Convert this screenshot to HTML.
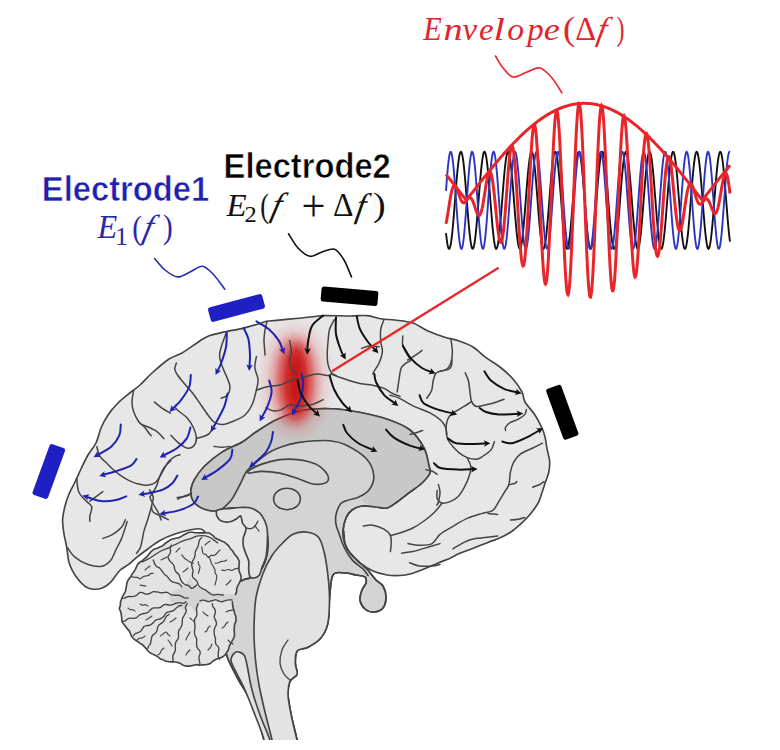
<!DOCTYPE html>
<html><head><meta charset="utf-8"><style>
html,body{margin:0;padding:0;background:#fff;}
body{width:780px;height:750px;overflow:hidden;position:relative;}
svg{position:absolute;left:0;top:0;}
.t{font-family:"Liberation Sans",sans-serif;font-weight:bold;}
.m{font-family:"Liberation Serif",serif;}
</style></head><body>
<svg width="780" height="750" viewBox="0 0 780 750">
<defs>
<radialGradient id="glow" cx="0.5" cy="0.5" r="0.5">
<stop offset="0" stop-color="#d41818" stop-opacity="1"/>
<stop offset="0.4" stop-color="#d61c1c" stop-opacity="0.9"/>
<stop offset="0.75" stop-color="#e04040" stop-opacity="0.35"/>
<stop offset="1" stop-color="#e85050" stop-opacity="0"/>
</radialGradient>
<filter id="blur" x="-100%" y="-100%" width="300%" height="300%"><feGaussianBlur stdDeviation="10"/></filter><filter id="blur2" x="-100%" y="-100%" width="300%" height="300%"><feGaussianBlur stdDeviation="6"/></filter>
</defs>
<rect width="780" height="750" fill="#fff"/>
<path d="M62.6,520.0 C62.8,515.5 63.9,510.3 65.0,506.0 C66.1,501.7 67.3,498.0 69.0,494.0 C70.7,490.0 73.0,486.2 75.0,482.0 C77.0,477.8 78.8,473.5 81.0,469.0 C83.2,464.5 85.5,459.3 88.0,455.0 C90.5,450.7 93.8,447.5 96.0,443.0 C98.2,438.5 99.0,432.7 101.0,428.0 C103.0,423.3 105.2,419.2 108.0,415.0 C110.8,410.8 114.2,406.8 118.0,403.0 C121.8,399.2 127.3,395.0 131.0,392.0 C134.7,389.0 136.5,388.2 140.0,385.0 C143.5,381.8 147.2,377.3 152.0,373.0 C156.8,368.7 164.0,362.3 169.0,359.0 C174.0,355.7 177.0,355.9 182.0,353.0 C187.0,350.1 194.5,344.4 199.0,341.5 C203.5,338.6 204.9,337.4 209.2,335.8 C213.5,334.2 218.8,333.2 224.6,331.9 C230.4,330.6 238.4,329.4 243.8,328.1 C249.2,326.8 253.5,325.3 257.3,324.2 C261.1,323.1 263.7,321.9 266.9,321.3 C270.1,320.7 271.7,320.9 276.5,320.4 C281.3,319.9 289.4,319.1 295.8,318.5 C302.2,317.9 310.2,317.0 315.0,316.5 C319.8,316.0 318.6,315.7 324.6,315.6 C330.6,315.5 343.9,316.0 351.0,316.0 C358.1,316.0 361.8,315.1 367.0,315.6 C372.2,316.1 377.3,318.3 382.0,319.0 C386.7,319.7 389.8,319.3 395.0,320.0 C400.2,320.7 407.5,321.2 413.0,323.0 C418.5,324.8 422.8,328.7 428.0,331.0 C433.2,333.3 438.8,335.3 444.0,337.0 C449.2,338.7 454.2,339.3 459.0,341.0 C463.8,342.7 468.5,344.2 473.0,347.0 C477.5,349.8 481.5,354.4 486.0,357.7 C490.5,361.0 495.5,363.4 500.0,367.0 C504.5,370.6 509.3,374.8 513.0,379.0 C516.7,383.2 520.0,388.2 522.0,392.0 C524.0,395.8 522.8,398.2 525.0,402.0 C527.2,405.8 532.2,410.7 535.0,415.0 C537.8,419.3 540.3,424.3 542.0,428.0 C543.7,431.7 544.1,433.4 545.0,437.0 C545.9,440.6 546.4,445.6 547.2,449.6 C548.0,453.6 549.3,457.1 549.6,460.8 C549.9,464.5 549.5,468.5 548.8,472.0 C548.1,475.5 546.7,478.4 545.6,481.6 C544.5,484.8 543.5,488.0 542.4,491.2 C541.3,494.4 540.5,497.9 539.2,500.8 C537.9,503.7 536.3,506.1 534.4,508.8 C532.5,511.5 530.1,514.4 528.0,516.8 C525.9,519.2 524.3,520.8 521.6,523.2 C518.9,525.6 515.5,528.8 512.0,531.2 C508.5,533.6 504.8,535.7 500.8,537.6 C496.8,539.5 492.8,540.5 488.0,542.4 C483.2,544.3 476.8,546.9 472.0,548.8 C467.2,550.7 462.9,552.0 459.2,553.6 C455.5,555.2 453.1,556.8 449.6,558.4 C446.1,560.0 442.3,561.2 438.0,563.0 C433.7,564.8 428.7,567.2 424.0,569.0 C419.3,570.8 414.0,572.9 410.0,574.0 C406.0,575.1 403.8,575.3 400.0,575.5 C396.2,575.7 391.5,575.8 387.0,575.0 C382.5,574.2 377.5,573.0 373.0,571.0 C368.5,569.0 363.8,566.0 360.0,563.0 C356.2,560.0 352.5,556.2 350.0,553.0 C347.5,549.8 346.2,547.7 345.0,544.0 C343.8,540.3 344.5,528.3 343.0,531.0 C341.5,533.7 343.2,552.7 336.0,560.0 C328.8,567.3 312.7,570.8 300.0,575.0 C287.3,579.2 270.0,583.3 260.0,585.0 C250.0,586.7 244.7,587.5 240.0,585.0 C235.3,582.5 235.3,576.2 232.0,570.0 C228.7,563.8 224.3,554.2 220.0,548.0 C215.7,541.8 209.7,536.2 206.0,533.0 C202.3,529.8 203.2,528.6 198.0,528.8 C192.8,529.0 181.3,532.0 175.0,534.0 C168.7,536.0 164.6,537.9 160.0,540.5 C155.4,543.1 151.0,546.7 147.2,549.5 C143.3,552.3 140.1,554.6 136.9,557.2 C133.7,559.8 130.7,562.8 127.9,564.9 C125.1,567.0 122.4,568.1 120.3,570.0 C118.2,571.9 116.8,574.3 115.1,576.4 C113.4,578.5 112.1,580.9 110.0,582.8 C107.9,584.7 105.1,586.9 102.3,588.0 C99.5,589.1 96.1,589.4 93.3,589.2 C90.5,589.0 88.2,588.4 85.6,586.7 C83.0,585.0 80.0,581.6 77.9,579.0 C75.8,576.4 74.3,574.1 72.8,571.3 C71.3,568.5 70.1,566.6 69.0,562.3 C67.9,558.0 67.3,550.5 66.4,545.6 C65.5,540.7 64.4,537.1 63.8,532.8 C63.2,528.5 62.4,524.5 62.6,520.0Z" fill="#e7e7e7" stroke="#444444" stroke-width="1.65" stroke-linejoin="round" stroke-linecap="round" />
<path d="M190.8,492.0 C190.8,488.2 192.0,484.2 194.3,479.9 C196.6,475.6 200.1,470.6 204.7,466.0 C209.3,461.4 215.7,456.2 222.0,452.1 C228.3,448.1 237.1,445.1 242.8,441.7 C248.5,438.3 250.3,435.7 256.0,432.0 C261.7,428.3 269.3,423.1 277.0,419.5 C284.7,415.9 293.0,412.3 302.0,410.5 C311.0,408.7 321.4,408.4 331.0,408.7 C340.6,409.0 350.0,410.5 359.5,412.3 C369.0,414.1 379.6,416.6 388.0,419.5 C396.4,422.4 404.0,425.2 410.0,430.0 C416.0,434.8 420.8,442.0 424.0,448.0 C427.2,454.0 428.0,461.8 429.0,466.0 C430.0,470.2 431.2,470.2 430.0,473.0 C428.8,475.8 425.3,479.8 422.0,483.0 C418.7,486.2 414.2,488.8 410.0,492.0 C405.8,495.2 400.8,499.3 397.0,502.0 C393.2,504.7 390.5,507.2 387.0,508.0 C383.5,508.8 380.2,507.3 376.0,507.0 C371.8,506.7 366.0,505.5 362.0,506.0 C358.0,506.5 354.7,508.0 352.0,510.0 C349.3,512.0 347.5,514.5 346.0,518.0 C344.5,521.5 343.2,526.7 343.0,531.0 C342.8,535.3 343.8,540.3 345.0,544.0 C346.2,547.7 347.5,549.8 350.0,553.0 C352.5,556.2 357.2,560.3 360.0,563.0 C362.8,565.7 365.2,567.2 367.0,569.0 C368.8,570.8 369.5,572.2 371.0,574.0 C372.5,575.8 374.0,578.0 376.0,580.0 C378.0,582.0 381.3,583.2 383.0,586.0 C384.7,588.8 386.0,593.3 386.0,597.0 C386.0,600.7 385.0,605.5 383.0,608.0 C381.0,610.5 377.0,611.8 374.0,612.0 C371.0,612.2 367.3,611.0 365.0,609.0 C362.7,607.0 360.5,603.2 360.0,600.0 C359.5,596.8 361.0,592.8 362.0,590.0 C363.0,587.2 365.5,585.2 366.0,583.0 C366.5,580.8 366.7,578.3 365.0,577.0 C363.3,575.7 359.3,575.7 356.0,575.0 C352.7,574.3 348.8,573.0 345.0,573.0 C341.2,573.0 335.6,570.7 333.0,575.0 C330.4,579.3 330.4,590.6 329.5,598.7 C328.6,606.9 329.2,617.3 327.7,623.9 C326.2,630.5 323.8,634.4 320.5,638.3 C317.2,642.2 311.8,645.2 307.9,647.3 C304.0,649.4 299.2,648.2 297.1,650.9 C295.0,653.6 295.3,659.6 295.3,663.5 C295.3,667.4 298.0,671.2 297.1,674.2 C296.2,677.2 291.4,677.8 289.9,681.4 C288.4,685.0 287.8,689.8 288.1,695.8 C288.4,701.8 290.2,710.0 291.7,717.4 C293.2,724.8 295.9,734.2 297.0,740.0 C298.1,745.8 303.7,750.0 298.0,752.0 C292.3,754.0 268.7,754.0 263.0,752.0 C257.3,750.0 266.0,748.3 264.0,740.0 C262.0,731.7 255.3,712.2 251.0,702.0 C246.7,691.8 241.8,686.2 238.0,679.0 C234.2,671.8 230.3,664.7 228.0,659.0 C225.7,653.3 225.0,651.5 224.0,645.0 C223.0,638.5 222.3,627.5 222.0,620.0 C221.7,612.5 221.0,605.3 222.0,600.0 C223.0,594.7 224.5,591.3 228.0,588.0 C231.5,584.7 239.3,581.7 243.0,580.0 C246.7,578.3 247.5,579.0 250.0,578.0 C252.5,577.0 255.5,576.7 258.0,574.0 C260.5,571.3 263.3,566.8 265.0,562.0 C266.7,557.2 268.0,551.2 268.0,545.0 C268.0,538.8 266.7,530.2 265.0,525.0 C263.3,519.8 260.8,516.7 258.0,514.0 C255.2,511.3 251.8,510.0 248.0,509.0 C244.2,508.0 239.3,508.0 235.0,508.0 C230.7,508.0 225.3,508.5 222.0,509.0 C218.7,509.5 217.9,510.9 215.0,511.0 C212.1,511.1 208.1,510.7 204.7,509.3 C201.2,507.9 196.6,505.3 194.3,502.4 C192.0,499.5 190.8,495.8 190.8,492.0Z" fill="#d4d4d4" stroke="#444444" stroke-width="1.65" stroke-linejoin="round" stroke-linecap="round" />
<path d="M222.3,509.0 C218.8,510.8 213.7,511.2 210.0,511.0 C206.3,510.8 202.6,509.4 200.0,508.0 C197.4,506.6 195.8,505.1 194.3,502.4 C192.8,499.7 190.8,495.8 190.8,492.0 C190.8,488.2 192.0,484.2 194.3,479.9 C196.6,475.6 200.1,470.6 204.7,466.0 C209.3,461.4 215.7,456.2 222.0,452.1 C228.3,448.1 237.1,445.1 242.8,441.7 C248.5,438.3 250.3,435.7 256.0,432.0 C261.7,428.3 269.3,423.1 277.0,419.5 C284.7,415.9 293.0,412.3 302.0,410.5 C311.0,408.7 321.4,408.4 331.0,408.7 C340.6,409.0 350.0,410.5 359.5,412.3 C369.0,414.1 379.6,416.6 388.0,419.5 C396.4,422.4 404.0,425.2 410.0,430.0 C416.0,434.8 420.8,442.0 424.0,448.0 C427.2,454.0 428.5,461.2 429.0,466.0 C429.5,470.8 428.6,473.7 426.8,477.0 C425.0,480.3 421.3,482.8 418.0,485.6 C414.7,488.4 410.5,490.9 406.8,493.6 C403.1,496.3 399.1,499.2 395.6,501.6 C392.1,504.0 389.3,507.1 386.0,508.0 C382.7,508.9 379.3,507.8 376.0,507.0 C372.7,506.2 368.5,504.2 366.0,503.0 C363.5,501.8 360.5,501.7 361.0,499.5 C361.5,497.3 366.9,493.9 369.0,490.0 C371.1,486.1 374.2,481.2 373.8,476.0 C373.4,470.8 371.4,464.2 366.6,459.0 C361.8,453.8 351.1,447.6 345.0,444.6 C338.9,441.6 334.9,441.4 330.0,440.8 C325.1,440.2 321.0,440.5 315.6,440.8 C310.2,441.1 303.1,441.7 297.7,442.6 C292.3,443.5 287.8,444.7 283.3,446.2 C278.8,447.7 275.0,449.1 270.8,451.5 C266.6,453.9 261.8,457.6 258.2,460.5 C254.6,463.4 251.3,466.5 249.2,468.6 C247.1,470.7 247.4,469.9 245.6,473.0 C243.8,476.1 240.9,482.9 238.5,487.4 C236.1,491.9 234.0,496.4 231.3,500.0 C228.6,503.6 225.9,507.2 222.3,509.0Z" fill="#c8c8c8" stroke="none" stroke-width="1.65" stroke-linejoin="round" stroke-linecap="round" />
<path d="M190.8,492.0 C190.8,488.2 192.0,484.2 194.3,479.9 C196.6,475.6 200.1,470.6 204.7,466.0 C209.3,461.4 215.7,456.2 222.0,452.1 C228.3,448.1 237.1,445.1 242.8,441.7 C248.5,438.3 250.3,435.7 256.0,432.0 C261.7,428.3 269.3,423.1 277.0,419.5 C284.7,415.9 293.0,412.3 302.0,410.5 C311.0,408.7 321.4,408.4 331.0,408.7 C340.6,409.0 350.0,410.5 359.5,412.3 C369.0,414.1 379.6,416.6 388.0,419.5 C396.4,422.4 404.0,425.2 410.0,430.0 C416.0,434.8 420.8,442.0 424.0,448.0 C427.2,454.0 428.0,461.8 429.0,466.0 C430.0,470.2 431.2,470.2 430.0,473.0 C428.8,475.8 425.3,479.8 422.0,483.0 C418.7,486.2 414.2,488.8 410.0,492.0 C405.8,495.2 400.8,499.3 397.0,502.0 C393.2,504.7 390.5,507.2 387.0,508.0 C383.5,508.8 380.2,507.3 376.0,507.0 C371.8,506.7 366.0,505.5 362.0,506.0 C358.0,506.5 354.7,508.0 352.0,510.0 C349.3,512.0 347.5,514.5 346.0,518.0 C344.5,521.5 343.2,526.7 343.0,531.0 C342.8,535.3 343.8,540.3 345.0,544.0 C346.2,547.7 347.5,549.8 350.0,553.0 C352.5,556.2 357.2,560.3 360.0,563.0 C362.8,565.7 365.2,567.2 367.0,569.0 C368.8,570.8 369.5,572.2 371.0,574.0 C372.5,575.8 374.0,578.0 376.0,580.0 C378.0,582.0 381.3,583.2 383.0,586.0 C384.7,588.8 386.0,593.3 386.0,597.0 C386.0,600.7 385.0,605.5 383.0,608.0 C381.0,610.5 377.0,611.8 374.0,612.0 C371.0,612.2 367.3,611.0 365.0,609.0 C362.7,607.0 360.5,603.2 360.0,600.0 C359.5,596.8 361.0,592.8 362.0,590.0 C363.0,587.2 365.5,585.2 366.0,583.0 C366.5,580.8 366.7,578.3 365.0,577.0 C363.3,575.7 359.3,575.7 356.0,575.0 C352.7,574.3 348.8,573.0 345.0,573.0 C341.2,573.0 335.6,570.7 333.0,575.0 C330.4,579.3 330.4,590.6 329.5,598.7 C328.6,606.9 329.2,617.3 327.7,623.9 C326.2,630.5 323.8,634.4 320.5,638.3 C317.2,642.2 311.8,645.2 307.9,647.3 C304.0,649.4 299.2,648.2 297.1,650.9 C295.0,653.6 295.3,659.6 295.3,663.5 C295.3,667.4 298.0,671.2 297.1,674.2 C296.2,677.2 291.4,677.8 289.9,681.4 C288.4,685.0 287.8,689.8 288.1,695.8 C288.4,701.8 290.2,710.0 291.7,717.4 C293.2,724.8 295.9,734.2 297.0,740.0 C298.1,745.8 303.7,750.0 298.0,752.0 C292.3,754.0 268.7,754.0 263.0,752.0 C257.3,750.0 266.0,748.3 264.0,740.0 C262.0,731.7 255.3,712.2 251.0,702.0 C246.7,691.8 241.8,686.2 238.0,679.0 C234.2,671.8 230.3,664.7 228.0,659.0 C225.7,653.3 225.0,651.5 224.0,645.0 C223.0,638.5 222.3,627.5 222.0,620.0 C221.7,612.5 221.0,605.3 222.0,600.0 C223.0,594.7 224.5,591.3 228.0,588.0 C231.5,584.7 239.3,581.7 243.0,580.0 C246.7,578.3 247.5,579.0 250.0,578.0 C252.5,577.0 255.5,576.7 258.0,574.0 C260.5,571.3 263.3,566.8 265.0,562.0 C266.7,557.2 268.0,551.2 268.0,545.0 C268.0,538.8 266.7,530.2 265.0,525.0 C263.3,519.8 260.8,516.7 258.0,514.0 C255.2,511.3 251.8,510.0 248.0,509.0 C244.2,508.0 239.3,508.0 235.0,508.0 C230.7,508.0 225.3,508.5 222.0,509.0 C218.7,509.5 217.9,510.9 215.0,511.0 C212.1,511.1 208.1,510.7 204.7,509.3 C201.2,507.9 196.6,505.3 194.3,502.4 C192.0,499.5 190.8,495.8 190.8,492.0Z" fill="none" stroke="#444444" stroke-width="1.65" stroke-linejoin="round" stroke-linecap="round" />
<path d="M222.3,509.0 C223.8,507.5 228.6,503.6 231.3,500.0 C234.0,496.4 236.1,491.9 238.5,487.4 C240.9,482.9 243.8,476.1 245.6,473.0 C247.4,469.9 247.1,470.7 249.2,468.6 C251.3,466.5 254.6,463.4 258.2,460.5 C261.8,457.6 266.6,453.9 270.8,451.5 C275.0,449.1 278.8,447.7 283.3,446.2 C287.8,444.7 292.3,443.5 297.7,442.6 C303.1,441.7 310.2,441.1 315.6,440.8 C321.0,440.5 325.1,440.2 330.0,440.8 C334.9,441.4 338.9,441.6 345.0,444.6 C351.1,447.6 361.8,453.8 366.6,459.0 C371.4,464.2 373.4,470.8 373.8,476.0 C374.2,481.2 371.6,486.5 369.0,490.0 C366.4,493.5 362.0,495.5 358.4,497.2 C354.8,498.9 350.1,499.3 347.2,500.4 C344.3,501.5 342.7,501.2 340.8,503.6 C338.9,506.0 336.8,511.3 336.0,514.8 C335.2,518.3 335.5,521.2 336.0,524.4 C336.5,527.6 337.9,530.3 339.2,534.0 C340.5,537.7 341.9,542.5 344.0,546.8 C346.1,551.1 348.8,555.9 352.0,559.6 C355.2,563.3 360.5,566.5 363.2,569.2 C365.9,571.9 367.2,574.5 368.0,575.6" fill="none" stroke="#444444" stroke-width="1.65" stroke-linejoin="round" stroke-linecap="round" />
<path d="M249.2,470.4 C251.3,468.9 256.7,465.9 261.8,464.1 C266.9,462.3 273.7,460.4 279.7,459.6 C285.7,458.9 291.7,458.9 297.7,459.6 C303.7,460.4 310.8,461.9 315.6,464.1 C320.4,466.4 324.3,470.4 326.4,473.1 C328.5,475.8 328.8,478.5 328.2,480.3 C327.6,482.1 325.5,483.2 322.8,483.8 C320.1,484.4 316.3,484.7 312.1,483.8 C307.9,482.9 303.1,480.3 297.7,478.5 C292.3,476.7 285.7,474.3 279.7,473.1 C273.7,471.9 266.9,471.3 261.8,471.3 C256.7,471.3 251.3,473.2 249.2,473.1 C247.1,473.0 247.1,471.9 249.2,470.4Z" fill="#d4d4d4" stroke="#444444" stroke-width="1.65" stroke-linejoin="round" stroke-linecap="round" />
<ellipse cx="287" cy="499" rx="13.4" ry="10.7" fill="#d4d4d4" stroke="#444444" stroke-width="1.6"/>
<path d="M217.0,510.5 C215.9,511.6 216.3,513.8 216.7,515.3 C217.1,516.8 218.1,518.7 219.5,519.8 C220.9,520.9 223.1,521.7 225.0,522.0 C226.9,522.3 229.1,522.0 231.0,521.5 C232.9,521.0 235.1,519.6 236.7,518.7 C238.3,517.8 239.7,515.3 240.7,516.0 C241.7,516.7 241.6,521.0 242.5,523.0 C243.4,525.0 245.6,526.3 246.0,528.0 C246.4,529.7 245.4,531.3 245.0,533.0 C244.6,534.7 243.6,535.8 243.3,538.0 C243.0,540.2 242.9,543.3 243.3,546.0 C243.8,548.7 245.1,551.5 246.0,554.0 C246.9,556.5 248.2,558.3 248.7,561.0 C249.1,563.7 248.5,567.4 248.7,570.0 C248.9,572.6 249.1,575.4 250.0,576.7 C250.9,578.0 252.4,578.2 254.0,578.0 C255.6,577.8 258.0,577.1 259.3,575.3 C260.6,573.5 260.9,570.4 262.0,567.3 C263.1,564.2 265.1,560.7 266.0,556.7 C266.9,552.7 267.1,547.8 267.3,543.3 C267.5,538.8 267.7,533.8 267.3,530.0 C266.9,526.2 266.0,523.6 264.7,520.7 C263.4,517.8 261.8,514.9 259.3,512.7 C256.9,510.6 253.2,508.7 250.0,507.8 C246.8,506.9 243.3,507.4 240.0,507.5 C236.7,507.6 232.8,508.2 230.0,508.5 C227.2,508.8 225.5,508.7 223.3,509.0 C221.1,509.3 218.1,509.4 217.0,510.5Z" fill="#e3e3e3" stroke="#444444" stroke-width="1.65" stroke-linejoin="round" stroke-linecap="round" />
<path d="M246.0,528.0 C246.8,528.1 249.5,529.0 251.0,528.7 C252.5,528.4 253.8,527.3 255.0,526.0 C256.2,524.7 257.5,521.8 258.0,521.0" fill="none" stroke="#444444" stroke-width="1.3" stroke-linejoin="round" stroke-linecap="round" />
<path d="M255.0,526.0 C255.7,526.8 258.3,530.2 259.0,531.0" fill="none" stroke="#444444" stroke-width="1.2" stroke-linejoin="round" stroke-linecap="round" />
<path d="M274.0,752.0 C273.7,750.0 273.5,746.7 272.0,740.0 C270.5,733.3 267.2,721.2 265.0,712.0 C262.8,702.8 260.6,693.7 259.0,685.0 C257.4,676.3 256.3,669.0 255.5,660.0 C254.7,651.0 253.9,641.2 254.0,631.0 C254.1,620.8 254.3,608.3 255.8,598.7 C257.3,589.1 260.3,580.7 263.0,573.5 C265.7,566.3 268.7,560.6 272.0,555.5 C275.3,550.4 279.1,546.6 282.7,543.0 C286.3,539.4 289.3,535.8 293.5,534.0 C297.7,532.2 303.7,531.6 307.9,532.2 C312.1,532.8 316.0,534.3 318.7,537.6 C321.4,540.9 322.6,546.0 324.1,552.0 C325.6,558.0 326.8,565.7 327.7,573.5 C328.6,581.3 329.5,590.3 329.5,598.7 C329.5,607.1 329.2,617.3 327.7,623.9 C326.2,630.5 323.8,634.4 320.5,638.3 C317.2,642.2 311.8,645.2 307.9,647.3 C304.0,649.4 299.2,648.2 297.1,650.9 C295.0,653.6 295.3,659.6 295.3,663.5 C295.3,667.4 298.0,671.2 297.1,674.2 C296.2,677.2 291.4,677.8 289.9,681.4 C288.4,685.0 287.8,689.8 288.1,695.8 C288.4,701.8 290.2,710.0 291.7,717.4 C293.2,724.8 296.1,736.2 297.0,740.0" fill="#e3e3e3" stroke="#444444" stroke-width="1.65" stroke-linejoin="round" stroke-linecap="round" />
<path d="M288.0,640.0 C287.0,641.7 283.3,646.2 282.0,650.0 C280.7,653.8 279.7,659.0 280.0,663.0 C280.3,667.0 282.3,671.2 284.0,674.0 C285.7,676.8 289.0,679.0 290.0,680.0" fill="none" stroke="#444444" stroke-width="1.3" stroke-linejoin="round" stroke-linecap="round" />
<path d="M263.0,752.0 C263.2,750.0 265.3,746.2 264.0,740.0 C262.7,733.8 258.2,723.3 255.0,715.0 C251.8,706.7 248.2,697.2 245.0,690.0 C241.8,682.8 238.3,677.0 236.0,672.0 C233.7,667.0 231.0,663.3 231.0,660.0 C231.0,656.7 233.8,652.8 236.0,652.0 C238.2,651.2 242.2,652.8 244.0,655.0 C245.8,657.2 245.7,659.2 247.0,665.0 C248.3,670.8 249.8,681.7 252.0,690.0 C254.2,698.3 257.0,706.7 260.0,715.0 C263.0,723.3 268.0,733.8 270.0,740.0 C272.0,746.2 271.7,750.0 272.0,752.0" fill="#e3e3e3" stroke="#444444" stroke-width="1.65" stroke-linejoin="round" stroke-linecap="round" />
<path d="M119.3,608.4 C119.3,607.5 120.2,606.6 120.3,605.6 C120.5,604.6 120.3,603.5 120.4,602.5 C120.6,601.5 120.9,600.5 121.3,599.6 C121.6,598.6 122.0,597.7 122.4,596.8 C122.9,595.9 123.4,595.0 123.9,594.1 C124.4,593.2 125.1,592.3 125.4,591.4 C125.8,590.4 125.8,589.4 126.0,588.4 C126.2,587.4 126.4,586.3 126.5,585.3 C126.7,584.4 126.8,583.6 127.0,582.8 C127.3,582.0 127.6,581.2 128.0,580.4 C128.4,579.7 128.9,579.0 129.4,578.3 C129.9,577.6 130.6,577.0 131.1,576.2 C131.5,575.5 131.7,574.7 132.2,574.0 C132.6,573.3 133.3,572.7 133.8,571.9 C134.3,571.2 134.7,570.4 135.2,569.6 C135.6,568.8 136.0,568.0 136.4,567.1 C136.8,566.3 137.0,565.4 137.5,564.6 C138.0,563.8 138.8,563.1 139.5,562.5 C140.3,561.8 141.3,561.5 142.1,560.9 C142.9,560.3 143.4,559.5 144.2,558.9 C144.9,558.2 145.8,557.8 146.5,557.1 C147.2,556.5 147.7,555.7 148.3,554.9 C148.9,554.2 149.5,553.4 150.2,552.6 C150.8,551.9 151.5,551.2 152.2,550.6 C153.0,550.0 153.8,549.4 154.6,549.0 C155.5,548.6 156.4,548.5 157.2,548.2 C158.1,547.9 158.8,547.4 159.6,547.0 C160.4,546.7 161.2,546.4 162.0,546.0 C162.7,545.6 163.3,545.1 164.1,544.5 C164.8,543.9 165.6,543.1 166.5,542.5 C167.3,541.9 168.1,541.3 169.0,540.8 C169.9,540.2 170.8,539.7 171.7,539.3 C172.5,538.9 173.4,538.8 174.3,538.6 C175.2,538.4 176.1,538.2 177.0,538.0 C177.9,537.8 178.8,537.7 179.7,537.3 C180.5,537.0 181.2,536.4 182.0,535.9 C182.8,535.5 183.6,535.0 184.5,534.5 C185.3,534.1 186.2,533.7 187.1,533.3 C188.0,532.9 188.9,532.5 189.9,532.3 C190.8,532.2 191.7,532.2 192.6,532.3 C193.5,532.4 194.5,532.7 195.4,532.8 C196.3,532.8 197.1,532.7 198.0,532.8 C198.9,532.8 199.8,532.8 200.7,532.9 C201.6,532.9 202.5,532.9 203.4,532.9 C204.4,532.8 205.3,532.7 206.2,532.7 C207.2,532.7 208.2,532.7 209.1,533.0 C209.9,533.3 210.6,533.9 211.3,534.4 C212.0,534.9 212.7,535.4 213.3,535.9 C213.9,536.5 214.4,537.4 215.1,537.9 C215.8,538.4 216.6,538.6 217.4,539.0 C218.1,539.3 218.8,539.8 219.6,540.1 C220.4,540.5 221.1,540.7 222.0,541.1 C222.8,541.4 223.9,541.8 224.7,542.3 C225.5,542.9 226.2,543.6 226.9,544.3 C227.6,545.0 228.4,545.6 229.0,546.4 C229.6,547.2 230.1,548.2 230.7,549.0 C231.3,549.7 232.0,550.3 232.6,551.0 C233.1,551.7 233.4,552.3 233.8,553.0 C234.3,553.7 234.7,554.4 235.3,555.1 C235.8,555.7 236.6,556.3 237.1,557.0 C237.5,557.7 237.9,558.4 238.2,559.2 C238.6,559.9 239.1,560.7 239.3,561.6 C239.4,562.4 239.2,563.3 239.1,564.2 C239.1,565.1 239.0,565.9 239.0,566.8 C238.9,567.6 238.8,568.5 238.9,569.3 C239.0,570.1 239.1,571.0 239.4,571.8 C239.6,572.6 240.1,573.4 240.4,574.2 C240.7,575.0 241.0,575.9 241.1,576.7 C241.2,577.6 241.1,578.6 240.9,579.4 C240.7,580.2 240.2,581.0 239.8,581.8 C239.4,582.6 239.1,583.3 238.7,584.1 C238.3,584.9 237.8,585.7 237.4,586.5 C237.1,587.2 236.9,588.1 236.7,588.9 C236.6,589.7 236.8,590.5 236.6,591.5 C236.4,592.4 235.9,593.5 235.5,594.5 C235.1,595.6 234.6,596.6 234.2,597.5 C233.7,598.4 232.9,599.2 232.7,600.1 C232.4,601.0 232.5,602.0 232.5,603.0 C232.5,604.0 232.6,605.1 232.8,606.1 C232.9,607.1 233.2,608.2 233.5,609.1 C233.7,610.0 234.0,610.7 234.3,611.5 C234.5,612.3 234.6,613.1 234.8,614.0 C235.1,614.8 235.6,615.6 235.8,616.4 C235.9,617.2 235.9,618.1 235.9,618.9 C235.9,619.8 236.0,620.6 235.8,621.5 C235.6,622.4 234.9,623.4 234.6,624.3 C234.4,625.3 234.5,626.2 234.4,627.2 C234.3,628.2 234.2,629.1 234.2,630.1 C234.2,631.1 234.4,632.1 234.4,633.0 C234.5,634.0 234.5,635.1 234.4,636.0 C234.2,636.9 233.8,637.7 233.5,638.5 C233.1,639.3 232.6,640.0 232.2,640.7 C231.7,641.5 231.4,642.3 231.0,643.0 C230.6,643.8 230.0,644.5 229.7,645.3 C229.4,646.1 229.1,646.9 228.9,647.7 C228.7,648.5 228.6,649.4 228.2,650.1 C227.9,650.9 227.3,651.5 226.8,652.2 C226.4,652.9 226.0,653.8 225.5,654.4 C224.9,655.1 224.3,655.6 223.6,656.1 C222.9,656.7 222.3,657.2 221.4,657.6 C220.6,658.0 219.4,658.1 218.4,658.4 C217.5,658.7 216.5,659.0 215.6,659.5 C214.7,659.9 213.9,660.5 213.0,661.1 C212.2,661.7 211.5,662.7 210.6,663.2 C209.8,663.7 208.9,664.1 208.0,664.3 C207.1,664.6 206.2,664.6 205.2,664.7 C204.3,664.8 203.4,664.9 202.4,664.9 C201.5,665.0 200.6,665.0 199.6,665.0 C198.7,664.9 197.8,664.6 196.8,664.6 C195.9,664.6 194.9,664.9 194.0,665.1 C193.0,665.3 192.1,665.6 191.1,665.8 C190.2,665.9 189.2,666.1 188.3,666.1 C187.3,666.2 186.2,666.2 185.3,666.0 C184.4,665.8 183.6,665.5 182.8,665.1 C182.0,664.6 181.3,663.9 180.5,663.5 C179.7,663.1 178.9,662.8 178.1,662.6 C177.2,662.3 176.4,662.1 175.5,662.0 C174.6,661.8 173.7,661.8 172.8,661.8 C171.9,661.8 171.0,661.9 170.2,661.9 C169.3,661.9 168.5,661.7 167.6,661.5 C166.8,661.4 166.0,661.2 165.2,660.9 C164.4,660.6 163.6,660.0 162.8,659.6 C162.0,659.3 161.2,659.3 160.4,658.9 C159.7,658.5 159.2,657.8 158.5,657.3 C157.9,656.8 157.1,656.3 156.4,655.9 C155.6,655.5 154.8,655.2 154.0,654.8 C153.2,654.4 152.4,654.0 151.7,653.6 C150.9,653.2 150.2,652.8 149.5,652.3 C148.8,651.7 148.2,651.1 147.6,650.5 C147.0,649.9 146.5,649.2 145.9,648.5 C145.3,647.8 144.8,647.0 144.1,646.4 C143.5,645.7 142.9,645.0 142.2,644.5 C141.4,643.9 140.5,643.6 139.7,643.1 C139.0,642.6 138.3,642.0 137.5,641.4 C136.8,640.9 135.9,640.5 135.2,640.0 C134.5,639.4 133.7,638.9 133.1,638.2 C132.5,637.6 131.8,636.8 131.4,636.0 C131.0,635.2 130.8,634.1 130.4,633.3 C130.0,632.4 129.6,631.5 129.1,630.8 C128.5,630.0 127.8,629.3 127.2,628.6 C126.6,627.9 126.1,627.1 125.5,626.4 C124.9,625.6 124.3,624.9 123.7,624.1 C123.1,623.4 122.4,622.6 122.0,621.7 C121.7,620.9 121.9,619.8 121.8,618.9 C121.7,618.0 121.7,617.1 121.5,616.2 C121.4,615.3 121.3,614.4 121.1,613.5 C120.9,612.6 120.7,611.8 120.4,610.9 C120.1,610.1 119.3,609.3 119.3,608.4Z" fill="#e3e3e3" stroke="#444444" stroke-width="1.65" stroke-linejoin="round" stroke-linecap="round" />
<path d="M142.0,562.0 C143.3,561.3 147.0,559.8 150.0,558.0 C153.0,556.2 156.8,553.2 160.0,551.5 C163.2,549.8 165.6,549.3 169.2,547.6 C172.8,545.9 178.2,542.8 181.8,541.3 C185.4,539.8 188.1,539.5 190.8,538.6 C193.5,537.7 195.0,536.2 198.0,535.9 C201.0,535.6 205.4,535.6 208.7,536.8 C212.0,538.0 216.2,542.0 217.7,543.0" fill="none" stroke="#444444" stroke-width="1.3" stroke-linejoin="round" stroke-linecap="round" />
<path d="M172.0,592.0 C173.7,590.0 177.7,589.3 180.0,588.0 C182.3,586.7 184.3,585.7 186.0,584.0 C187.7,582.3 188.7,577.8 190.0,578.0 C191.3,578.2 192.3,583.3 194.0,585.0 C195.7,586.7 197.3,586.8 200.0,588.0 C202.7,589.2 205.8,591.0 210.0,592.0 C214.2,593.0 220.3,593.3 225.0,594.0 C229.7,594.7 235.5,594.7 238.0,596.0 C240.5,597.3 242.2,601.3 240.0,602.0 C237.8,602.7 230.3,600.3 225.0,600.0 C219.7,599.7 212.2,599.3 208.0,600.0 C203.8,600.7 202.0,602.0 200.0,604.0 C198.0,606.0 197.7,611.7 196.0,612.0 C194.3,612.3 192.0,606.3 190.0,606.0 C188.0,605.7 186.0,610.0 184.0,610.0 C182.0,610.0 180.3,607.7 178.0,606.0 C175.7,604.3 171.0,602.3 170.0,600.0 C169.0,597.7 170.3,594.0 172.0,592.0Z" fill="#d3d3d3" stroke="none" stroke-width="1.65" stroke-linejoin="round" stroke-linecap="round" />
<path d="M223.3,595.0 C222.8,595.0 221.5,594.9 220.5,594.8 C219.6,594.6 218.7,594.3 217.8,594.3 C216.8,594.3 216.0,594.9 215.0,594.9 C214.0,595.0 212.9,595.0 211.9,594.7 C211.0,594.3 210.2,593.5 209.4,592.9 C208.6,592.4 207.7,591.7 207.0,591.2 C206.3,590.6 205.7,590.0 204.9,589.6 C204.2,589.2 203.1,589.0 202.3,588.6 C201.5,588.2 200.7,587.7 200.0,587.1 C199.4,586.5 198.8,585.9 198.3,585.0 C197.8,584.1 197.8,582.8 197.2,581.9 C196.7,580.9 195.9,580.2 195.1,579.4 C194.3,578.6 193.1,577.9 192.6,577.0 C192.2,576.1 192.4,575.0 192.5,574.0 C192.5,573.0 193.1,571.9 193.1,570.9 C193.1,570.0 192.6,569.1 192.4,568.3 C192.2,567.4 191.9,566.6 191.8,565.8 C191.7,564.9 191.8,564.0 191.9,563.2 C192.1,562.4 192.4,561.6 192.7,560.8 C193.1,560.0 193.7,559.4 194.1,558.5 C194.5,557.7 194.8,556.8 195.0,555.8 C195.2,554.8 194.9,553.6 195.1,552.6 C195.3,551.6 195.7,550.8 196.1,549.8 C196.6,548.8 197.5,547.8 197.9,546.7 C198.3,545.7 198.5,544.6 198.7,543.5 C199.0,542.4 199.0,541.1 199.5,540.1 C200.0,539.1 201.3,537.9 201.7,537.5" fill="none" stroke="#444444" stroke-width="1.35" stroke-linecap="round" stroke-linejoin="round"/>
<path d="M171.7,545.0 C171.4,545.5 170.4,546.7 170.2,547.7 C170.0,548.7 170.6,550.0 170.6,551.0 C170.5,552.1 170.2,553.0 169.8,554.0 C169.4,554.9 168.1,555.7 168.0,556.7 C167.9,557.8 168.7,559.3 169.4,560.3 C170.1,561.4 171.4,562.2 172.1,563.1 C172.9,564.0 173.5,564.7 174.0,565.7 C174.4,566.8 174.3,568.1 174.7,569.1 C175.0,570.2 175.4,571.1 176.1,572.0 C176.8,572.9 178.4,573.6 179.0,574.7 C179.7,575.7 179.7,577.2 180.1,578.3 C180.4,579.3 180.8,580.0 181.3,580.8 C181.8,581.6 182.3,582.4 182.9,583.1 C183.6,583.7 184.3,584.3 185.2,584.7 C186.2,585.1 187.5,585.0 188.6,585.6 C189.7,586.2 190.7,588.2 191.7,588.4 C192.7,588.6 193.7,587.5 194.5,586.9 C195.4,586.4 196.3,585.3 196.7,585.0" fill="none" stroke="#444444" stroke-width="1.35" stroke-linecap="round" stroke-linejoin="round"/>
<path d="M153.3,560.0 C153.4,560.4 153.7,561.6 154.1,562.4 C154.4,563.2 154.7,564.0 155.1,564.7 C155.6,565.4 156.0,566.2 156.7,566.7 C157.4,567.2 158.6,567.3 159.3,567.8 C160.1,568.4 160.6,569.2 161.2,569.9 C161.8,570.6 162.3,571.4 162.9,572.1 C163.4,572.9 163.9,573.8 164.6,574.5 C165.3,575.2 166.2,575.4 167.1,576.3 C168.0,577.3 169.0,579.0 170.0,580.0 C171.0,581.0 171.9,581.7 173.1,582.2 C174.2,582.7 175.8,582.6 176.9,583.0 C178.0,583.3 178.9,583.7 179.7,584.3 C180.5,585.0 181.4,586.3 181.7,586.7" fill="none" stroke="#444444" stroke-width="1.35" stroke-linecap="round" stroke-linejoin="round"/>
<path d="M121.7,598.3 C122.1,598.3 123.4,598.4 124.2,598.2 C125.1,597.9 125.8,597.3 126.6,597.0 C127.4,596.7 128.3,596.5 129.1,596.4 C129.9,596.4 130.7,596.6 131.7,596.6 C132.6,596.5 133.7,596.4 134.7,596.1 C135.6,595.8 136.5,595.3 137.3,594.7 C138.2,594.1 138.9,592.7 139.8,592.4 C140.7,592.1 141.8,592.5 142.8,592.8 C143.7,593.1 144.6,593.9 145.5,594.1 C146.5,594.3 147.5,594.2 148.3,593.9 C149.2,593.7 150.0,593.2 150.8,592.9 C151.6,592.5 152.3,591.9 153.2,591.7 C154.0,591.5 154.9,591.8 155.8,591.8 C156.6,591.9 157.5,591.9 158.3,592.1 C159.1,592.3 159.8,592.8 160.7,592.9 C161.5,593.0 162.4,592.7 163.3,592.6 C164.2,592.5 165.1,592.1 165.9,592.1 C166.8,592.2 167.6,592.6 168.4,593.0 C169.2,593.4 170.0,594.2 170.8,594.6 C171.7,594.9 172.6,595.0 173.5,595.1 C174.5,595.3 175.4,595.2 176.4,595.3 C177.3,595.3 178.3,595.1 179.2,595.3 C180.1,595.5 180.8,596.0 181.8,596.4 C182.7,596.9 183.7,597.6 184.7,597.9 C185.8,598.2 187.5,598.0 188.0,598.0" fill="none" stroke="#444444" stroke-width="1.35" stroke-linecap="round" stroke-linejoin="round"/>
<path d="M122.6,621.5 C123.1,621.4 124.5,621.2 125.3,620.8 C126.2,620.4 126.8,619.4 127.7,618.9 C128.5,618.5 129.4,618.3 130.4,618.2 C131.4,618.1 132.4,618.5 133.4,618.4 C134.5,618.3 135.7,618.1 136.6,617.6 C137.6,617.1 138.3,615.9 139.2,615.3 C140.1,614.7 141.1,614.3 142.1,613.9 C143.1,613.6 144.1,613.5 145.1,613.3 C146.1,613.0 147.1,612.9 148.0,612.4 C148.8,611.9 149.4,610.8 150.2,610.1 C151.0,609.4 151.7,608.5 152.6,608.1 C153.5,607.8 154.6,607.9 155.6,607.9 C156.6,607.8 157.7,608.0 158.6,607.8 C159.5,607.6 160.4,607.3 161.3,606.8 C162.1,606.4 162.9,605.3 163.7,604.9 C164.5,604.6 165.4,604.5 166.2,604.5 C167.1,604.5 168.0,604.9 168.9,605.0 C169.8,605.1 170.6,605.1 171.5,605.0 C172.3,604.8 173.1,604.5 173.9,604.2 C174.7,603.9 175.4,603.4 176.3,603.1 C177.3,602.8 178.4,602.6 179.5,602.6 C180.6,602.6 181.8,603.4 182.9,603.3 C184.0,603.2 185.5,602.2 186.0,602.0" fill="none" stroke="#444444" stroke-width="1.35" stroke-linecap="round" stroke-linejoin="round"/>
<path d="M133.3,635.9 C133.6,635.5 134.4,634.2 135.2,633.7 C136.0,633.2 137.2,633.1 138.1,632.7 C139.0,632.3 139.9,631.8 140.6,631.2 C141.3,630.5 141.8,629.6 142.4,628.8 C143.0,628.0 143.3,627.0 144.0,626.5 C144.7,626.0 145.7,625.8 146.6,625.6 C147.5,625.4 148.6,625.6 149.4,625.3 C150.3,625.0 151.0,624.5 151.7,624.0 C152.4,623.5 153.1,622.8 153.7,622.2 C154.4,621.5 154.9,620.5 155.7,620.0 C156.4,619.6 157.4,619.7 158.3,619.4 C159.2,619.1 160.3,618.9 161.2,618.4 C162.1,617.9 162.9,617.3 163.6,616.6 C164.2,615.9 164.7,614.7 165.3,614.0 C166.0,613.3 166.6,612.6 167.4,612.2 C168.2,611.8 169.2,611.9 170.1,611.7 C171.0,611.5 171.9,611.3 172.7,610.9 C173.5,610.6 174.2,610.1 174.9,609.5 C175.6,608.9 176.1,608.0 176.8,607.4 C177.5,606.8 178.2,606.2 179.0,605.8 C179.9,605.5 181.3,605.5 181.8,605.4" fill="none" stroke="#444444" stroke-width="1.35" stroke-linecap="round" stroke-linejoin="round"/>
<path d="M147.7,648.5 C147.9,648.1 148.3,646.8 148.8,646.0 C149.2,645.2 150.1,644.5 150.4,643.7 C150.8,642.9 150.8,641.9 151.0,641.0 C151.2,640.1 151.2,639.1 151.5,638.2 C151.7,637.3 151.9,636.3 152.4,635.6 C152.9,634.9 154.0,634.5 154.7,633.8 C155.3,633.2 155.9,632.5 156.4,631.8 C156.8,631.0 157.2,630.2 157.4,629.3 C157.7,628.5 157.4,627.3 157.9,626.5 C158.3,625.6 159.2,624.9 160.0,624.3 C160.7,623.6 161.8,623.2 162.5,622.5 C163.3,621.8 163.8,620.9 164.3,620.1 C164.8,619.3 165.0,618.6 165.5,617.8 C165.9,617.1 166.3,616.2 166.9,615.7 C167.5,615.1 168.8,614.6 169.2,614.4" fill="none" stroke="#444444" stroke-width="1.35" stroke-linecap="round" stroke-linejoin="round"/>
<path d="M172.8,661.9 C172.8,661.4 173.1,660.0 173.1,659.0 C173.1,658.0 172.5,656.9 172.7,655.9 C172.9,655.0 173.7,654.1 174.2,653.2 C174.6,652.3 175.1,651.4 175.3,650.4 C175.5,649.5 175.3,648.4 175.3,647.4 C175.3,646.4 175.2,645.4 175.3,644.4 C175.5,643.4 175.7,642.4 176.1,641.5 C176.6,640.6 177.6,639.8 178.0,638.9 C178.5,638.0 178.5,636.9 178.6,636.0 C178.6,635.1 178.4,634.1 178.4,633.2 C178.4,632.3 178.5,631.4 178.8,630.6 C179.2,629.8 179.9,629.1 180.4,628.3 C180.8,627.6 181.3,626.8 181.6,626.0 C181.9,625.1 182.1,624.3 182.2,623.4 C182.3,622.5 182.1,621.6 182.2,620.7 C182.3,619.8 182.4,619.0 182.7,618.1 C183.0,617.3 183.4,616.6 183.9,615.8 C184.3,615.0 184.9,614.3 185.3,613.5 C185.7,612.7 186.1,612.1 186.2,611.0 C186.2,609.9 185.3,608.2 185.4,607.0 C185.6,605.7 186.9,604.2 187.2,603.6" fill="none" stroke="#444444" stroke-width="1.35" stroke-linecap="round" stroke-linejoin="round"/>
<path d="M199.7,665.5 C199.7,665.0 199.9,663.6 199.8,662.6 C199.7,661.6 199.2,660.6 199.1,659.6 C199.0,658.7 198.9,657.7 199.0,656.7 C199.2,655.7 200.0,654.7 200.1,653.7 C200.3,652.8 200.3,651.9 199.9,651.0 C199.6,650.2 198.5,649.6 198.0,648.9 C197.5,648.1 197.2,647.3 196.9,646.5 C196.7,645.7 196.6,644.8 196.5,643.9 C196.5,643.0 196.7,642.1 196.7,641.2 C196.7,640.3 196.8,639.3 196.5,638.3 C196.2,637.4 195.3,636.5 195.0,635.6 C194.7,634.7 194.6,633.7 194.5,632.7 C194.5,631.8 194.6,630.8 194.7,629.8 C194.7,628.8 195.0,627.8 195.1,626.9 C195.1,626.0 194.9,625.3 194.8,624.4 C194.7,623.6 194.5,622.7 194.4,621.8 C194.4,620.9 194.4,620.1 194.7,619.3 C195.0,618.5 195.8,617.7 196.1,616.9 C196.5,616.1 196.8,615.4 196.9,614.5 C197.0,613.6 196.9,612.7 196.8,611.7 C196.7,610.8 196.3,609.8 196.4,608.9 C196.4,608.0 196.9,607.1 197.1,606.2 C197.4,605.3 197.9,604.0 198.0,603.6" fill="none" stroke="#444444" stroke-width="1.35" stroke-linecap="round" stroke-linejoin="round"/>
<path d="M219.5,659.2 C219.3,658.8 218.5,657.6 218.3,656.8 C218.1,656.0 218.3,655.1 218.3,654.3 C218.3,653.4 218.3,652.6 218.4,651.7 C218.5,650.8 218.9,649.9 218.9,649.1 C218.8,648.2 218.7,647.4 218.2,646.6 C217.7,645.8 216.5,645.1 216.0,644.3 C215.5,643.4 215.5,642.4 215.4,641.5 C215.3,640.5 215.6,639.4 215.5,638.4 C215.3,637.5 214.8,636.8 214.6,635.8 C214.4,634.9 214.3,634.0 214.2,633.0 C214.2,632.0 214.0,631.0 214.1,630.1 C214.3,629.1 214.7,628.2 215.1,627.2 C215.4,626.3 216.2,625.4 216.4,624.5 C216.6,623.5 216.3,622.4 216.1,621.5 C215.8,620.6 215.2,619.9 214.9,619.1 C214.6,618.3 214.3,617.5 214.3,616.6 C214.3,615.8 214.7,614.9 214.9,614.0 C215.1,613.1 215.5,612.2 215.4,611.4 C215.4,610.5 215.0,609.7 214.6,608.9 C214.2,608.1 213.2,607.3 212.8,606.4 C212.4,605.5 212.4,604.1 212.3,603.6" fill="none" stroke="#444444" stroke-width="1.35" stroke-linecap="round" stroke-linejoin="round"/>
<path d="M200.0,601.0 C200.4,600.9 201.6,600.2 202.5,600.1 C203.3,600.0 204.1,600.2 205.0,600.4 C205.8,600.6 206.7,601.3 207.5,601.4 C208.4,601.6 209.1,601.5 210.0,601.3 C210.9,601.1 212.0,600.6 213.0,600.3 C214.0,600.1 215.0,599.7 216.0,599.8 C217.0,599.9 218.0,600.7 219.0,601.1 C220.0,601.4 221.1,601.8 222.0,601.7 C222.9,601.7 223.7,601.1 224.5,600.8 C225.3,600.6 226.1,600.2 227.0,600.1 C227.8,599.9 228.6,599.8 229.5,599.8 C230.3,599.8 231.6,600.0 232.0,600.0" fill="none" stroke="#444444" stroke-width="1.35" stroke-linecap="round" stroke-linejoin="round"/>
<path d="M131.7,576.7 C132.2,576.8 133.5,577.2 134.4,577.3 C135.4,577.4 136.4,577.2 137.3,577.4 C138.2,577.7 139.2,578.9 140.1,578.8 C141.0,578.8 141.8,577.4 142.7,577.0 C143.6,576.5 144.5,576.3 145.5,576.0 C146.5,575.8 147.6,575.8 148.5,575.4 C149.3,575.0 149.8,574.0 150.6,573.6 C151.4,573.3 152.9,573.4 153.3,573.3" fill="none" stroke="#444444" stroke-width="1.15" stroke-linecap="round" stroke-linejoin="round"/>
<path d="M201.7,546.7 C201.8,547.3 202.1,548.9 202.3,550.0 C202.6,551.2 202.4,552.7 203.0,553.5 C203.6,554.2 205.2,554.0 206.1,554.6 C206.9,555.2 207.3,557.1 208.2,557.2 C209.1,557.3 210.4,555.8 211.5,555.4 C212.7,555.1 214.0,555.6 215.0,555.1 C216.0,554.6 216.6,553.3 217.5,552.5 C218.3,551.6 219.6,550.4 220.0,550.0" fill="none" stroke="#444444" stroke-width="1.15" stroke-linecap="round" stroke-linejoin="round"/>
<path d="M208.3,556.7 C208.6,557.2 209.9,558.7 210.4,559.8 C210.9,560.9 210.9,562.3 211.4,563.4 C211.9,564.6 212.8,565.5 213.4,566.6 C214.0,567.7 214.7,569.0 215.0,570.0 C215.3,571.0 214.9,571.9 215.2,572.8 C215.4,573.8 216.3,574.5 216.6,575.4 C216.8,576.3 216.8,577.3 216.6,578.3 C216.5,579.3 216.1,580.5 215.8,581.6 C215.6,582.8 215.1,584.4 215.0,585.0" fill="none" stroke="#444444" stroke-width="1.15" stroke-linecap="round" stroke-linejoin="round"/>
<path d="M215.0,563.3 C215.6,563.2 217.3,563.2 218.4,562.8 C219.5,562.5 220.6,561.6 221.6,561.4 C222.6,561.1 223.5,561.4 224.3,561.2 C225.2,561.0 226.3,560.2 226.7,560.0" fill="none" stroke="#444444" stroke-width="1.15" stroke-linecap="round" stroke-linejoin="round"/>
<path d="M221.7,570.0 C222.1,570.1 223.4,570.6 224.2,570.6 C225.0,570.5 225.9,569.8 226.7,569.7 C227.5,569.5 228.4,569.5 229.2,569.6 C230.0,569.8 230.8,570.7 231.8,570.5 C232.7,570.4 233.8,569.2 234.9,568.9 C236.0,568.5 237.7,568.4 238.3,568.3" fill="none" stroke="#444444" stroke-width="1.15" stroke-linecap="round" stroke-linejoin="round"/>
<path d="M198.3,561.7 C198.4,562.1 198.3,563.6 198.6,564.4 C198.9,565.2 199.9,565.8 200.0,566.7 C200.1,567.6 199.6,568.9 199.3,570.0 C199.0,571.1 198.5,572.8 198.3,573.3" fill="none" stroke="#444444" stroke-width="1.15" stroke-linecap="round" stroke-linejoin="round"/>
<path d="M181.7,555.0 C182.1,555.4 183.2,556.9 184.0,557.7 C184.9,558.5 185.8,559.2 186.8,559.9 C187.8,560.6 188.8,561.3 189.9,561.9 C191.0,562.5 192.7,563.1 193.3,563.3" fill="none" stroke="#444444" stroke-width="1.15" stroke-linecap="round" stroke-linejoin="round"/>
<path d="M176.0,552.0 C176.3,551.6 177.2,550.6 177.9,549.9 C178.6,549.2 179.6,548.3 180.0,548.0" fill="none" stroke="#444444" stroke-width="1.15" stroke-linecap="round" stroke-linejoin="round"/>
<path d="M160.3,636.0 C160.8,635.7 162.2,634.6 163.1,633.9 C164.1,633.3 165.2,631.9 166.0,632.0 C166.8,632.0 167.1,633.6 167.8,634.2 C168.4,634.9 169.6,635.7 170.0,636.0" fill="none" stroke="#444444" stroke-width="1.15" stroke-linecap="round" stroke-linejoin="round"/>
<path d="M186.0,640.0 C186.2,639.5 186.5,638.0 187.0,637.2 C187.4,636.3 188.1,635.5 188.6,634.6 C189.1,633.8 189.8,632.4 190.0,632.0" fill="none" stroke="#444444" stroke-width="1.15" stroke-linecap="round" stroke-linejoin="round"/>
<path d="M205.0,632.0 C205.4,631.7 206.6,631.1 207.1,630.4 C207.6,629.7 207.6,628.5 208.1,627.8 C208.6,627.1 209.7,626.3 210.0,626.0" fill="none" stroke="#444444" stroke-width="1.15" stroke-linecap="round" stroke-linejoin="round"/>
<path d="M222.0,628.0 C222.4,627.7 223.8,627.1 224.4,626.4 C225.1,625.7 225.3,624.7 225.9,623.9 C226.5,623.2 227.7,622.3 228.0,622.0" fill="none" stroke="#444444" stroke-width="1.15" stroke-linecap="round" stroke-linejoin="round"/>
<path d="M137.0,640.0 C137.4,639.7 138.6,638.7 139.5,638.3 C140.4,638.0 141.7,638.2 142.6,637.8 C143.5,637.4 144.6,636.3 145.0,636.0" fill="none" stroke="#444444" stroke-width="1.15" stroke-linecap="round" stroke-linejoin="round"/>
<path d="M140.0,604.0 C140.4,604.2 141.6,605.0 142.6,605.1 C143.5,605.2 144.6,604.6 145.5,604.7 C146.4,604.9 147.6,605.8 148.0,606.0" fill="none" stroke="#444444" stroke-width="1.15" stroke-linecap="round" stroke-linejoin="round"/>
<path d="M226.0,612.0 C226.6,611.8 228.2,610.9 229.4,610.6 C230.6,610.3 232.4,610.1 233.0,610.0" fill="none" stroke="#444444" stroke-width="1.15" stroke-linecap="round" stroke-linejoin="round"/>
<path d="M158.0,655.0 C158.4,654.7 159.7,653.7 160.3,652.9 C160.9,652.1 161.0,650.8 161.6,650.0 C162.2,649.2 163.6,648.3 164.0,648.0" fill="none" stroke="#444444" stroke-width="1.15" stroke-linecap="round" stroke-linejoin="round"/>
<path d="M208.0,650.0 C208.4,649.6 209.8,648.3 210.5,647.3 C211.1,646.3 211.7,644.6 212.0,644.0" fill="none" stroke="#444444" stroke-width="1.15" stroke-linecap="round" stroke-linejoin="round"/>
<path d="M186.0,655.0 C186.3,654.5 187.0,653.1 187.7,652.2 C188.3,651.4 189.6,650.4 190.0,650.0" fill="none" stroke="#444444" stroke-width="1.15" stroke-linecap="round" stroke-linejoin="round"/>
<path d="M140.0,585.0 C140.5,585.1 142.0,585.5 143.0,585.6 C144.0,585.8 145.5,585.9 146.0,586.0" fill="none" stroke="#444444" stroke-width="1.15" stroke-linecap="round" stroke-linejoin="round"/>
<path d="M128.0,608.0 C128.4,608.3 129.3,609.2 130.1,609.5 C130.9,609.8 131.9,609.6 132.7,609.8 C133.6,610.1 134.6,610.8 135.0,611.0" fill="none" stroke="#444444" stroke-width="1.15" stroke-linecap="round" stroke-linejoin="round"/>
<path d="M146.0,620.0 C146.5,619.7 148.0,618.7 149.0,618.0 C150.0,617.4 151.5,616.3 152.0,616.0" fill="none" stroke="#444444" stroke-width="1.15" stroke-linecap="round" stroke-linejoin="round"/>
<path d="M168.0,640.0 C168.4,640.5 169.5,641.9 170.1,642.9 C170.8,643.9 171.7,645.5 172.0,646.0" fill="none" stroke="#444444" stroke-width="1.15" stroke-linecap="round" stroke-linejoin="round"/>
<path d="M176.0,618.0 C175.5,618.4 174.1,619.5 173.1,620.2 C172.1,620.8 170.5,621.7 170.0,622.0" fill="none" stroke="#444444" stroke-width="1.15" stroke-linecap="round" stroke-linejoin="round"/>
<path d="M190.0,618.0 C190.4,618.3 191.6,619.4 192.4,620.1 C193.3,620.8 194.6,621.7 195.0,622.0" fill="none" stroke="#444444" stroke-width="1.15" stroke-linecap="round" stroke-linejoin="round"/>
<path d="M203.0,612.0 C203.4,612.4 204.5,613.6 205.3,614.2 C206.2,614.9 207.6,615.7 208.0,616.0" fill="none" stroke="#444444" stroke-width="1.15" stroke-linecap="round" stroke-linejoin="round"/>
<path d="M228.0,640.0 C228.4,640.4 229.3,641.8 230.1,642.4 C231.0,643.1 232.5,643.7 233.0,644.0" fill="none" stroke="#444444" stroke-width="1.15" stroke-linecap="round" stroke-linejoin="round"/>
<path d="M145.0,570.0 C145.4,569.7 146.6,568.6 147.4,567.9 C148.3,567.3 149.6,566.3 150.0,566.0" fill="none" stroke="#444444" stroke-width="1.15" stroke-linecap="round" stroke-linejoin="round"/>
<path d="M183.0,572.0 C183.4,571.7 184.8,570.8 185.6,570.1 C186.5,569.5 187.6,568.4 188.0,568.0" fill="none" stroke="#444444" stroke-width="1.15" stroke-linecap="round" stroke-linejoin="round"/>
<path d="M226.0,585.0 C226.5,584.6 227.9,583.6 228.7,582.7 C229.6,581.9 230.6,580.5 231.0,580.0" fill="none" stroke="#444444" stroke-width="1.15" stroke-linecap="round" stroke-linejoin="round"/>
<path d="M205.0,545.0 C205.4,544.7 206.6,543.6 207.4,542.9 C208.3,542.2 209.6,541.3 210.0,541.0" fill="none" stroke="#444444" stroke-width="1.15" stroke-linecap="round" stroke-linejoin="round"/>
<path d="M161.0,560.0 C161.5,559.7 162.9,558.9 163.9,558.4 C164.9,557.9 166.5,557.2 167.0,557.0" fill="none" stroke="#444444" stroke-width="1.15" stroke-linecap="round" stroke-linejoin="round"/>

<g filter="url(#blur)"><ellipse cx="295" cy="381" rx="20" ry="45" fill="#d82828" opacity="0.8"/></g><g filter="url(#blur2)"><ellipse cx="296" cy="381" rx="12" ry="37" fill="#c81212"/></g>
<path d="M133.6,390.8 C133.3,392.7 132.0,398.5 132.0,402.0 C132.0,405.5 132.5,408.4 133.6,411.6 C134.7,414.8 136.5,418.5 138.4,421.2 C140.3,423.9 142.9,425.5 144.8,427.6 C146.7,429.7 148.5,432.7 149.6,434.0 C150.7,435.3 150.9,435.3 151.2,435.6" fill="none" stroke="#444444" stroke-width="1.5" stroke-linecap="round" stroke-linejoin="round"/>
<path d="M141.6,424.4 C144.0,425.5 152.3,428.4 156.0,430.8 C159.7,433.2 162.7,437.5 164.0,438.8" fill="none" stroke="#444444" stroke-width="1.5" stroke-linecap="round" stroke-linejoin="round"/>
<path d="M96.8,446.8 C97.3,448.4 98.4,453.7 100.0,456.4 C101.6,459.1 104.3,460.7 106.4,462.8 C108.5,464.9 110.4,467.1 112.8,469.2 C115.2,471.3 118.1,473.7 120.8,475.6 C123.5,477.5 126.1,479.1 128.8,480.4 C131.5,481.7 133.9,482.8 136.8,483.6 C139.7,484.4 143.2,485.5 146.4,485.2 C149.6,484.9 153.1,484.7 156.0,482.0 C158.9,479.3 161.9,472.7 164.0,469.2 C166.1,465.7 166.9,463.3 168.8,461.2 C170.7,459.1 173.3,457.5 175.2,456.4 C177.1,455.3 179.2,455.1 180.0,454.8" fill="none" stroke="#444444" stroke-width="1.5" stroke-linecap="round" stroke-linejoin="round"/>
<path d="M154.4,402.0 C155.7,403.1 159.7,406.5 162.4,408.4 C165.1,410.3 169.1,412.4 170.4,413.2" fill="none" stroke="#444444" stroke-width="1.5" stroke-linecap="round" stroke-linejoin="round"/>
<path d="M176.4,363.0 C176.1,364.1 174.5,367.3 174.8,369.4 C175.1,371.5 176.1,373.1 178.0,375.8 C179.9,378.5 183.3,382.2 186.0,385.4 C188.7,388.6 191.5,391.7 194.0,395.0 C196.5,398.3 198.7,401.7 201.0,405.0 C203.3,408.3 205.8,412.2 208.0,415.0 C210.2,417.8 211.6,420.4 214.0,422.0 C216.4,423.6 219.1,424.7 222.5,424.5 C225.9,424.3 230.8,422.3 234.5,420.7 C238.2,419.1 242.1,417.6 245.0,415.0 C247.9,412.4 250.1,409.1 252.0,405.0 C253.9,400.9 255.4,394.5 256.4,390.2 C257.4,385.9 258.3,382.7 258.0,379.0 C257.7,375.3 255.1,371.5 254.8,367.8 C254.5,364.1 256.1,358.5 256.4,356.6" fill="none" stroke="#444444" stroke-width="1.5" stroke-linecap="round" stroke-linejoin="round"/>
<path d="M175.6,408.0 C176.1,408.5 176.9,409.6 178.8,411.2 C180.7,412.8 184.4,414.9 186.8,417.6 C189.2,420.3 191.6,423.7 193.2,427.2 C194.8,430.7 196.4,435.2 196.4,438.4 C196.4,441.6 194.8,444.8 193.2,446.4 C191.6,448.0 189.2,448.5 186.8,448.0 C184.4,447.5 181.5,445.3 178.8,443.2 C176.1,441.1 172.1,436.5 170.8,435.2" fill="none" stroke="#444444" stroke-width="1.5" stroke-linecap="round" stroke-linejoin="round"/>
<path d="M196.4,438.4 C197.5,438.1 200.7,437.6 202.8,436.8 C204.9,436.0 207.3,435.5 209.2,433.6 C211.1,431.7 213.2,426.9 214.0,425.6" fill="none" stroke="#444444" stroke-width="1.5" stroke-linecap="round" stroke-linejoin="round"/>
<path d="M267.0,321.5 C266.7,322.9 265.5,327.0 265.0,330.0 C264.5,333.0 264.1,336.6 264.0,339.6 C263.9,342.6 264.3,345.4 264.5,348.0 C264.7,350.6 264.9,353.8 265.0,355.0" fill="none" stroke="#444444" stroke-width="1.5" stroke-linecap="round" stroke-linejoin="round"/>
<path d="M256.4,390.2 C258.0,389.7 262.1,387.9 266.0,387.0 C269.9,386.1 276.0,386.0 280.0,385.0 C284.0,384.0 286.0,382.3 290.0,381.0 C294.0,379.7 299.5,378.4 304.0,377.2 C308.5,376.0 312.8,374.3 316.8,374.0 C320.8,373.7 325.6,375.6 328.0,375.6 C330.4,375.6 330.7,374.3 331.2,374.0" fill="none" stroke="#444444" stroke-width="1.5" stroke-linecap="round" stroke-linejoin="round"/>
<path d="M266.0,407.8 C267.3,408.3 271.3,410.7 274.0,411.0 C276.7,411.3 279.3,410.5 282.0,409.4 C284.7,408.3 287.7,405.2 290.0,404.6 C292.3,404.0 292.3,406.0 296.0,406.0 C299.7,406.0 308.0,405.2 312.0,404.4 C316.0,403.6 318.1,402.0 320.0,401.2 C321.9,400.4 322.7,399.9 323.2,399.6" fill="none" stroke="#444444" stroke-width="1.5" stroke-linecap="round" stroke-linejoin="round"/>
<path d="M226.0,333.4 C225.2,335.7 222.3,343.1 221.2,347.0 C220.1,350.9 219.3,353.1 219.6,356.6 C219.9,360.1 221.5,364.1 222.8,367.8 C224.1,371.5 226.4,375.8 227.6,379.0 C228.8,382.2 230.0,384.3 230.0,387.0 C230.0,389.7 229.1,393.1 227.6,395.0 C226.1,396.9 222.3,397.7 221.2,398.2" fill="none" stroke="#444444" stroke-width="1.5" stroke-linecap="round" stroke-linejoin="round"/>
<path d="M170.8,460.8 C169.7,461.9 166.3,464.5 164.4,467.2 C162.5,469.9 160.9,473.6 159.6,476.8 C158.3,480.0 157.7,483.5 156.4,486.4 C155.1,489.3 152.7,492.5 151.6,494.4 C150.5,496.3 149.7,496.0 150.0,497.6 C150.3,499.2 151.9,501.6 153.2,504.0 C154.5,506.4 156.7,509.3 158.0,512.0 C159.3,514.7 160.7,518.7 161.2,520.0" fill="none" stroke="#444444" stroke-width="1.5" stroke-linecap="round" stroke-linejoin="round"/>
<path d="M214.0,446.4 C215.3,446.5 219.3,447.2 222.0,447.2 C224.7,447.2 228.7,446.5 230.0,446.4" fill="none" stroke="#444444" stroke-width="1.5" stroke-linecap="round" stroke-linejoin="round"/>
<path d="M177.2,497.6 C178.8,497.3 184.4,496.8 186.8,496.0 C189.2,495.2 190.8,493.3 191.6,492.8" fill="none" stroke="#444444" stroke-width="1.5" stroke-linecap="round" stroke-linejoin="round"/>
<path d="M67.5,547.7 C68.7,549.3 71.5,554.3 74.9,557.1 C78.3,559.9 83.6,563.0 88.0,564.5 C92.4,566.0 97.4,567.0 101.1,566.4 C104.8,565.8 107.9,563.6 110.4,560.8 C112.9,558.0 114.1,553.3 116.0,549.6 C117.9,545.9 119.7,543.1 121.6,538.4 C123.5,533.7 126.3,524.4 127.2,521.6" fill="none" stroke="#444444" stroke-width="1.5" stroke-linecap="round" stroke-linejoin="round"/>
<path d="M76.8,478.7 C77.1,480.9 77.2,488.0 78.7,491.7 C80.2,495.4 83.9,498.6 86.1,501.1 C88.3,503.6 91.1,504.2 91.7,506.7 C92.3,509.2 90.2,513.5 89.9,516.0 C89.6,518.5 89.9,520.7 89.9,521.6" fill="none" stroke="#444444" stroke-width="1.5" stroke-linecap="round" stroke-linejoin="round"/>
<path d="M89.9,501.1 C92.1,499.5 100.7,493.3 102.9,491.7" fill="none" stroke="#444444" stroke-width="1.5" stroke-linecap="round" stroke-linejoin="round"/>
<path d="M149.6,489.9 C150.2,491.1 153.0,494.5 153.3,497.3 C153.6,500.1 151.5,504.2 151.5,506.7 C151.5,509.2 151.8,510.7 153.3,512.3 C154.9,513.8 158.3,514.8 160.8,516.0 C163.3,517.2 167.1,519.1 168.3,519.7" fill="none" stroke="#444444" stroke-width="1.5" stroke-linecap="round" stroke-linejoin="round"/>
<path d="M151.5,506.7 C150.9,508.9 148.9,515.7 147.7,519.7 C146.4,523.7 144.9,527.5 144.0,530.9 C143.1,534.3 142.7,537.5 142.1,540.3 C141.5,543.1 141.2,545.5 140.3,547.7 C139.4,549.9 137.1,552.4 136.5,553.3" fill="none" stroke="#444444" stroke-width="1.5" stroke-linecap="round" stroke-linejoin="round"/>
<path d="M102.9,538.4 C104.5,537.8 109.2,536.6 112.3,534.7 C115.4,532.8 119.4,529.7 121.6,527.2 C123.8,524.7 124.7,521.0 125.3,519.7" fill="none" stroke="#444444" stroke-width="1.5" stroke-linecap="round" stroke-linejoin="round"/>
<path d="M190.7,493.6 C189.1,494.2 183.5,496.4 181.3,497.3 C179.1,498.2 178.2,498.9 177.6,499.2" fill="none" stroke="#444444" stroke-width="1.5" stroke-linecap="round" stroke-linejoin="round"/>
<path d="M334.4,319.6 C333.6,321.2 330.7,325.5 329.6,329.2 C328.5,332.9 328.4,337.7 328.0,342.0 C327.6,346.3 327.2,351.1 327.2,354.8 C327.2,358.5 327.3,361.5 328.0,364.4 C328.7,367.3 329.9,370.5 331.2,372.4 C332.5,374.3 335.2,375.1 336.0,375.6" fill="none" stroke="#444444" stroke-width="1.5" stroke-linecap="round" stroke-linejoin="round"/>
<path d="M331.2,374.0 C333.3,374.8 339.2,377.2 344.0,378.8 C348.8,380.4 355.2,382.5 360.0,383.6 C364.8,384.7 368.8,384.4 372.8,385.2 C376.8,386.0 380.8,387.1 384.0,388.4 C387.2,389.7 389.3,391.9 392.0,393.2 C394.7,394.5 398.7,395.9 400.0,396.4" fill="none" stroke="#444444" stroke-width="1.5" stroke-linecap="round" stroke-linejoin="round"/>
<path d="M384.0,319.6 C383.5,321.2 381.3,325.5 380.8,329.2 C380.3,332.9 380.5,338.3 380.8,342.0 C381.1,345.7 382.7,348.1 382.4,351.6 C382.1,355.1 380.5,359.6 379.2,362.8 C377.9,366.0 375.5,368.9 374.4,370.8 C373.3,372.7 373.1,373.5 372.8,374.0" fill="none" stroke="#444444" stroke-width="1.5" stroke-linecap="round" stroke-linejoin="round"/>
<path d="M289.6,340.4 C289.9,342.3 291.2,347.9 291.2,351.6 C291.2,355.3 289.3,359.6 289.6,362.8 C289.9,366.0 291.7,368.9 292.8,370.8 C293.9,372.7 295.5,373.5 296.0,374.0" fill="none" stroke="#444444" stroke-width="1.5" stroke-linecap="round" stroke-linejoin="round"/>
<path d="M361.6,348.4 C362.9,348.0 366.7,346.3 369.6,346.0 C372.5,345.7 377.6,346.7 379.2,346.8" fill="none" stroke="#444444" stroke-width="1.5" stroke-linecap="round" stroke-linejoin="round"/>
<path d="M450.8,338.4 C451.1,340.7 452.4,347.9 452.4,352.0 C452.4,356.1 451.9,360.3 450.8,363.2 C449.7,366.1 448.4,368.0 446.0,369.6 C443.6,371.2 438.5,370.9 436.4,372.8 C434.3,374.7 434.0,377.9 433.2,380.8 C432.4,383.7 432.7,387.5 431.6,390.4 C430.5,393.3 427.6,397.1 426.8,398.4" fill="none" stroke="#444444" stroke-width="1.5" stroke-linecap="round" stroke-linejoin="round"/>
<path d="M402.8,336.0 C402.8,337.6 402.0,342.4 402.8,345.6 C403.6,348.8 406.3,352.8 407.6,355.2 C408.9,357.6 411.1,358.7 410.8,360.0 C410.5,361.3 407.6,361.9 406.0,363.2 C404.4,364.5 402.4,365.1 401.2,368.0 C400.0,370.9 399.5,376.8 398.8,380.8 C398.1,384.8 397.5,390.1 397.2,392.0" fill="none" stroke="#444444" stroke-width="1.5" stroke-linecap="round" stroke-linejoin="round"/>
<path d="M407.6,360.0 C408.9,359.2 413.2,356.8 415.6,355.2 C418.0,353.6 420.9,351.2 422.0,350.4" fill="none" stroke="#444444" stroke-width="1.5" stroke-linecap="round" stroke-linejoin="round"/>
<path d="M465.2,372.8 C465.7,374.1 467.6,377.6 468.4,380.8 C469.2,384.0 469.5,388.5 470.0,392.0 C470.5,395.5 470.5,399.2 471.6,401.6 C472.7,404.0 474.0,405.9 476.4,406.4 C478.8,406.9 483.3,405.3 486.0,404.8 C488.7,404.3 489.8,404.1 492.8,403.2 C495.8,402.3 502.1,399.9 504.0,399.2" fill="none" stroke="#444444" stroke-width="1.5" stroke-linecap="round" stroke-linejoin="round"/>
<path d="M471.6,401.6 C470.3,402.4 466.6,404.8 464.0,406.4 C461.4,408.0 458.4,409.6 456.0,411.2 C453.6,412.8 451.2,413.9 449.6,416.0 C448.0,418.1 446.9,421.1 446.4,424.0 C445.9,426.9 446.1,430.9 446.4,433.6 C446.7,436.3 446.9,437.9 448.0,440.0 C449.1,442.1 450.9,444.3 452.8,446.4 C454.7,448.5 456.8,450.9 459.2,452.8 C461.6,454.7 464.3,456.5 467.2,457.6 C470.1,458.7 474.1,459.5 476.8,459.2 C479.5,458.9 480.8,457.6 483.2,456.0 C485.6,454.4 489.3,452.0 491.2,449.6 C493.1,447.2 493.9,442.9 494.4,441.6" fill="none" stroke="#444444" stroke-width="1.5" stroke-linecap="round" stroke-linejoin="round"/>
<path d="M467.2,458.0 C467.8,459.4 470.5,463.4 470.8,466.4 C471.1,469.4 470.3,472.5 469.2,476.0 C468.1,479.5 466.3,483.7 464.4,487.2 C462.5,490.7 460.4,494.4 458.0,496.8 C455.6,499.2 452.7,500.5 450.0,501.6 C447.3,502.7 444.1,503.7 442.0,503.2 C439.9,502.7 438.0,500.5 437.2,498.4 C436.4,496.3 437.2,491.7 437.2,490.4" fill="none" stroke="#444444" stroke-width="1.5" stroke-linecap="round" stroke-linejoin="round"/>
<path d="M390.0,395.2 C391.6,395.7 395.6,396.5 399.6,398.4 C403.6,400.3 408.9,404.0 414.0,406.4 C419.1,408.8 425.6,410.5 430.0,412.8 C434.4,415.1 437.9,417.7 440.4,420.0 C442.9,422.3 444.1,424.1 445.2,426.4 C446.3,428.7 446.7,432.7 447.0,434.0" fill="none" stroke="#444444" stroke-width="1.5" stroke-linecap="round" stroke-linejoin="round"/>
<path d="M442.0,503.2 C440.7,504.8 437.0,509.8 434.0,512.8 C431.0,515.8 427.5,518.5 424.0,521.0 C420.5,523.5 416.8,526.0 412.8,528.0 C408.8,530.0 403.7,531.7 400.0,533.0 C396.3,534.3 392.0,535.2 390.4,535.6" fill="none" stroke="#444444" stroke-width="1.5" stroke-linecap="round" stroke-linejoin="round"/>
<path d="M363.2,526.0 C364.8,525.9 369.3,524.7 372.8,525.2 C376.3,525.7 381.1,527.5 384.0,529.2 C386.9,530.9 389.2,533.2 390.4,535.6 C391.6,538.0 391.2,540.9 391.2,543.6 C391.2,546.3 390.5,550.3 390.4,551.6" fill="none" stroke="#444444" stroke-width="1.5" stroke-linecap="round" stroke-linejoin="round"/>
<path d="M542.4,443.2 C540.8,444.0 536.5,446.1 532.8,448.0 C529.1,449.9 523.2,452.0 520.0,454.4 C516.8,456.8 515.2,459.5 513.6,462.4 C512.0,465.3 511.2,468.3 510.4,472.0 C509.6,475.7 509.9,481.3 508.8,484.8 C507.7,488.3 505.6,490.1 504.0,492.8 C502.4,495.5 501.1,497.9 499.2,500.8 C497.3,503.7 495.7,508.3 492.8,510.4 C489.9,512.5 485.9,512.3 481.6,513.6 C477.3,514.9 472.0,516.3 467.2,518.4 C462.4,520.5 457.3,523.7 452.8,526.4 C448.3,529.1 443.5,531.5 440.0,534.4 C436.5,537.3 435.5,541.8 432.0,543.6 C428.5,545.4 423.2,545.2 419.2,545.2 C415.2,545.2 409.9,543.9 408.0,543.6" fill="none" stroke="#444444" stroke-width="1.5" stroke-linecap="round" stroke-linejoin="round"/>
<path d="M508.8,484.8 C509.9,484.5 513.9,483.7 515.2,483.2 C516.5,482.7 516.5,481.9 516.8,481.6" fill="none" stroke="#444444" stroke-width="1.5" stroke-linecap="round" stroke-linejoin="round"/>
<path d="M532.8,487.2 C533.9,486.8 537.3,485.7 539.2,484.8 C541.1,483.9 543.2,482.1 544.0,481.6" fill="none" stroke="#444444" stroke-width="1.5" stroke-linecap="round" stroke-linejoin="round"/>
<path d="M488.0,513.6 C489.6,513.7 496.0,514.3 497.6,514.4" fill="none" stroke="#444444" stroke-width="1.5" stroke-linecap="round" stroke-linejoin="round"/>
<path d="M510.4,520.0 C511.7,519.9 516.0,519.6 518.4,519.2 C520.8,518.8 523.7,517.9 524.8,517.6" fill="none" stroke="#444444" stroke-width="1.5" stroke-linecap="round" stroke-linejoin="round"/>
<path d="M452.8,548.8 C454.7,547.7 460.8,544.0 464.0,542.4 C467.2,540.8 468.5,540.0 472.0,539.2 C475.5,538.4 480.5,538.1 484.8,537.6 C489.1,537.1 495.5,536.3 497.6,536.0" fill="none" stroke="#444444" stroke-width="1.5" stroke-linecap="round" stroke-linejoin="round"/>
<path d="M401.6,553.2 C403.5,552.9 409.1,552.4 412.8,551.6 C416.5,550.8 419.5,549.7 424.0,548.4 C428.5,547.1 437.3,544.4 440.0,543.6" fill="none" stroke="#444444" stroke-width="1.5" stroke-linecap="round" stroke-linejoin="round"/>
<path d="M409.6,562.8 C411.2,563.3 415.5,565.5 419.2,566.0 C422.9,566.5 428.5,566.3 432.0,566.0 C435.5,565.7 438.7,564.7 440.0,564.4" fill="none" stroke="#444444" stroke-width="1.5" stroke-linecap="round" stroke-linejoin="round"/>
<path d="M438.4,484.4 C438.7,485.7 440.0,489.5 440.0,492.4 C440.0,495.3 438.9,499.9 438.4,502.0 C437.9,504.1 437.1,504.7 436.8,505.2" fill="none" stroke="#444444" stroke-width="1.5" stroke-linecap="round" stroke-linejoin="round"/>
<path d="M440.0,371.2 C441.3,370.9 446.1,370.4 448.0,369.6 C449.9,368.8 450.5,368.0 451.2,366.4 C451.9,364.8 451.9,361.1 452.0,360.0" fill="none" stroke="#444444" stroke-width="1.5" stroke-linecap="round" stroke-linejoin="round"/>
<path d="M526.4,409.6 C526.1,410.4 526.1,412.8 524.8,414.4 C523.5,416.0 520.8,417.9 518.4,419.2 C516.0,420.5 512.5,421.1 510.4,422.4 C508.3,423.7 506.4,425.9 505.6,427.2 C504.8,428.5 505.6,429.9 505.6,430.4" fill="none" stroke="#444444" stroke-width="1.5" stroke-linecap="round" stroke-linejoin="round"/>
<path d="M410.0,434.4 C411.1,434.1 414.3,433.5 416.4,432.8 C418.5,432.1 421.7,430.8 422.8,430.4" fill="none" stroke="#444444" stroke-width="1.5" stroke-linecap="round" stroke-linejoin="round"/>
<path d="M426.0,469.6 C427.1,469.9 430.5,470.4 432.4,471.2 C434.3,472.0 436.4,473.9 437.2,474.4" fill="none" stroke="#444444" stroke-width="1.5" stroke-linecap="round" stroke-linejoin="round"/>

<rect id="cut" x="200" y="740" width="150" height="10" fill="#fff"/>
<path d="M226.8,332.6 C226.7,335.0 226.9,341.9 226.0,347.0 C225.1,352.1 222.7,358.9 221.2,363.0 C219.7,367.1 217.9,370.1 217.2,371.5" fill="none" stroke="#2222b0" stroke-width="2.0" stroke-linecap="round"/><path d="M215.6,375.0 L215.4,367.7 L217.7,370.5 L221.3,370.5Z" fill="#2222b0"/>
<path d="M243.6,327.8 C244.4,329.7 247.3,334.5 248.4,339.0 C249.5,343.5 249.8,350.3 250.0,355.0 C250.2,359.7 249.5,365.1 249.4,367.1" fill="none" stroke="#2222b0" stroke-width="2.0" stroke-linecap="round"/><path d="M249.2,371.0 L246.2,364.3 L249.4,366.0 L252.8,364.7Z" fill="#2222b0"/>
<path d="M256.4,321.4 C258.5,322.7 265.5,326.2 269.2,329.4 C272.9,332.6 276.5,337.1 278.8,340.6 C281.1,344.1 282.2,348.9 282.9,350.6" fill="none" stroke="#2222b0" stroke-width="2.0" stroke-linecap="round"/><path d="M284.4,354.2 L278.9,349.4 L282.5,349.6 L285.0,346.9Z" fill="#2222b0"/>
<path d="M190.8,375.0 C190.5,377.0 190.8,382.9 189.2,387.0 C187.6,391.1 184.0,396.1 181.2,399.8 C178.4,403.5 173.7,407.6 172.2,409.2" fill="none" stroke="#2222b0" stroke-width="2.0" stroke-linecap="round"/><path d="M169.5,412.0 L171.6,405.0 L173.0,408.4 L176.4,409.6Z" fill="#2222b0"/>
<path d="M227.6,393.4 C227.1,395.5 226.0,401.9 224.4,406.2 C222.8,410.5 220.0,415.3 218.0,419.0 C216.0,422.7 213.6,427.0 212.7,428.6" fill="none" stroke="#2222b0" stroke-width="2.0" stroke-linecap="round"/><path d="M210.8,432.0 L211.1,424.7 L213.2,427.6 L216.8,427.9Z" fill="#2222b0"/>
<path d="M269.2,380.6 C269.6,382.5 271.9,387.5 271.6,391.8 C271.3,396.1 269.3,401.8 267.6,406.2 C265.9,410.6 262.4,416.0 261.4,417.9" fill="none" stroke="#2222b0" stroke-width="2.0" stroke-linecap="round"/><path d="M259.6,421.4 L259.7,414.1 L261.9,417.0 L265.5,417.2Z" fill="#2222b0"/>
<path d="M301.6,374.0 C301.9,375.3 303.3,378.0 303.2,382.0 C303.1,386.0 302.4,393.0 300.8,398.0 C299.2,403.0 294.9,409.8 293.7,412.1" fill="none" stroke="#2222b0" stroke-width="2.0" stroke-linecap="round"/><path d="M292.0,415.6 L292.0,408.3 L294.2,411.1 L297.9,411.3Z" fill="#2222b0"/>
<path d="M190.4,427.5 C189.8,429.3 189.0,435.0 186.8,438.4 C184.6,441.8 181.2,445.1 177.2,448.0 C173.2,450.9 165.4,454.4 163.0,455.7" fill="none" stroke="#2222b0" stroke-width="2.0" stroke-linecap="round"/><path d="M159.6,457.6 L163.7,451.6 L164.0,455.2 L166.9,457.4Z" fill="#2222b0"/>
<path d="M232.4,449.6 C232.0,451.2 232.5,455.7 230.0,459.2 C227.5,462.7 221.4,467.3 217.2,470.4 C213.0,473.5 206.7,476.7 204.5,478.0" fill="none" stroke="#2222b0" stroke-width="2.0" stroke-linecap="round"/><path d="M201.2,480.0 L205.1,473.8 L205.5,477.4 L208.5,479.5Z" fill="#2222b0"/>
<path d="M177.4,475.5 C176.6,476.8 174.8,480.8 172.4,483.2 C170.0,485.6 166.5,488.0 162.8,489.6 C159.1,491.2 153.4,492.2 150.0,493.0 C146.6,493.8 143.5,494.0 142.3,494.2" fill="none" stroke="#2222b0" stroke-width="2.0" stroke-linecap="round"/><path d="M138.4,494.8 L144.3,490.5 L143.3,494.0 L145.3,497.1Z" fill="#2222b0"/>
<path d="M198.0,496.6 C197.2,497.8 196.4,501.7 193.2,504.0 C190.0,506.3 183.8,508.8 178.8,510.4 C173.8,512.0 165.7,512.9 163.0,513.5" fill="none" stroke="#2222b0" stroke-width="2.0" stroke-linecap="round"/><path d="M159.2,514.2 L165.0,509.7 L164.1,513.2 L166.2,516.2Z" fill="#2222b0"/>
<path d="M273.0,432.0 C272.7,433.7 272.2,438.7 271.0,442.0 C269.8,445.3 268.2,449.0 266.0,452.0 C263.8,455.0 260.3,457.8 258.0,460.0 C255.7,462.2 253.1,464.1 252.2,465.0" fill="none" stroke="#2222b0" stroke-width="2.0" stroke-linecap="round"/><path d="M249.2,467.5 L252.0,460.8 L253.0,464.3 L256.3,465.8Z" fill="#2222b0"/>
<path d="M136.5,459.0 C135.6,460.1 134.3,463.6 130.9,465.6 C127.5,467.6 120.7,469.7 116.0,471.2 C111.3,472.7 105.1,474.2 103.0,474.8" fill="none" stroke="#2222b0" stroke-width="2.0" stroke-linecap="round"/><path d="M99.2,475.9 L104.6,471.0 L104.0,474.6 L106.3,477.3Z" fill="#2222b0"/>
<path d="M120.8,424.4 C120.5,426.3 120.8,431.9 119.2,435.6 C117.6,439.3 114.9,443.5 111.2,446.8 C107.5,450.1 99.3,453.8 97.0,455.2" fill="none" stroke="#2222b0" stroke-width="2.0" stroke-linecap="round"/><path d="M93.6,457.2 L97.5,451.1 L97.9,454.7 L100.9,456.7Z" fill="#2222b0"/>
<path d="M126.3,496.4 C124.6,497.0 120.2,499.3 116.0,500.1 C111.8,500.9 106.1,501.7 101.1,501.1 C96.1,500.5 88.6,497.4 86.1,496.6" fill="none" stroke="#2222b0" stroke-width="2.0" stroke-linecap="round"/><path d="M82.4,495.5 L89.6,494.2 L87.2,496.9 L87.7,500.5Z" fill="#2222b0"/>
<path d="M323.2,315.6 C321.3,317.3 314.5,321.6 312.0,326.0 C309.5,330.4 308.8,337.8 308.0,342.0 C307.2,346.2 307.5,349.4 307.4,350.9" fill="none" stroke="#111111" stroke-width="2.0" stroke-linecap="round"/><path d="M307.2,354.8 L304.3,348.1 L307.5,349.8 L310.9,348.5Z" fill="#111111"/>
<path d="M336.0,317.2 C336.0,320.0 335.2,328.5 336.0,334.0 C336.8,339.5 339.5,346.3 340.8,350.0 C342.1,353.7 343.3,355.1 343.9,356.1" fill="none" stroke="#111111" stroke-width="2.0" stroke-linecap="round"/><path d="M345.6,359.6 L339.7,355.3 L343.4,355.1 L345.6,352.3Z" fill="#111111"/>
<path d="M356.8,316.4 C357.3,318.5 358.1,324.9 360.0,329.2 C361.9,333.5 365.4,338.5 368.0,342.0 C370.6,345.5 374.5,349.0 375.7,350.3" fill="none" stroke="#111111" stroke-width="2.0" stroke-linecap="round"/><path d="M378.4,353.2 L371.6,350.7 L375.0,349.5 L376.4,346.2Z" fill="#111111"/>
<path d="M329.6,375.6 C330.4,378.0 332.3,385.5 334.4,390.0 C336.5,394.5 339.9,399.5 342.4,402.8 C344.9,406.1 348.1,408.5 349.2,409.6" fill="none" stroke="#111111" stroke-width="2.0" stroke-linecap="round"/><path d="M352.0,412.4 L345.1,410.1 L348.5,408.9 L349.7,405.5Z" fill="#111111"/>
<path d="M374.4,374.0 C374.7,375.3 374.4,378.5 376.0,382.0 C377.6,385.5 380.8,391.2 384.0,394.8 C387.2,398.4 393.4,402.1 395.3,403.6" fill="none" stroke="#111111" stroke-width="2.0" stroke-linecap="round"/><path d="M398.4,406.0 L391.2,404.6 L394.5,402.9 L395.3,399.4Z" fill="#111111"/>
<path d="M297.6,380.4 C298.1,382.5 298.9,388.9 300.8,393.2 C302.7,397.5 306.1,402.6 308.8,406.0 C311.5,409.4 315.8,412.5 317.1,413.7" fill="none" stroke="#111111" stroke-width="2.0" stroke-linecap="round"/><path d="M320.0,416.4 L313.0,414.4 L316.3,413.0 L317.5,409.6Z" fill="#111111"/>
<path d="M402.8,345.6 C404.1,347.7 407.6,354.7 410.8,358.4 C414.0,362.1 418.5,365.7 422.0,368.0 C425.5,370.3 430.3,371.4 432.0,372.1" fill="none" stroke="#111111" stroke-width="2.0" stroke-linecap="round"/><path d="M435.6,373.6 L428.3,374.2 L431.0,371.7 L430.8,368.1Z" fill="#111111"/>
<path d="M419.6,395.2 C420.3,396.5 420.5,400.8 423.6,403.2 C426.7,405.6 433.0,407.9 438.0,409.6 C443.0,411.3 450.8,412.8 453.4,413.5" fill="none" stroke="#111111" stroke-width="2.0" stroke-linecap="round"/><path d="M457.2,414.4 L450.1,416.0 L452.3,413.2 L451.7,409.6Z" fill="#111111"/>
<path d="M484.4,371.2 C485.5,372.8 487.9,377.9 491.2,380.8 C494.5,383.7 499.6,386.8 504.0,388.8 C508.4,390.8 515.5,391.9 517.8,392.6" fill="none" stroke="#111111" stroke-width="2.0" stroke-linecap="round"/><path d="M521.6,393.6 L514.5,395.1 L516.8,392.3 L516.2,388.7Z" fill="#111111"/>
<path d="M479.6,408.0 C480.7,408.7 482.8,410.9 486.0,412.0 C489.2,413.1 493.2,414.1 498.8,414.4 C504.4,414.7 515.9,413.8 519.3,413.7" fill="none" stroke="#111111" stroke-width="2.0" stroke-linecap="round"/><path d="M523.2,413.6 L516.8,417.1 L518.2,413.8 L516.6,410.5Z" fill="#111111"/>
<path d="M502.4,441.6 C504.0,441.9 507.7,444.0 512.0,443.2 C516.3,442.4 523.4,439.0 528.0,436.8 C532.6,434.6 537.9,431.1 539.8,430.0" fill="none" stroke="#111111" stroke-width="2.0" stroke-linecap="round"/><path d="M543.2,428.0 L539.2,434.1 L538.9,430.5 L535.9,428.4Z" fill="#111111"/>
<path d="M448.0,438.4 C449.3,439.2 452.0,442.3 456.0,443.2 C460.0,444.1 466.9,444.0 472.0,444.0 C477.1,444.0 484.1,443.5 486.5,443.4" fill="none" stroke="#111111" stroke-width="2.0" stroke-linecap="round"/><path d="M490.4,443.2 L484.0,446.8 L485.4,443.4 L483.8,440.2Z" fill="#111111"/>
<path d="M434.0,463.2 C435.1,464.0 436.4,466.9 440.4,468.0 C444.4,469.1 452.4,469.4 458.0,469.6 C463.6,469.8 471.1,469.2 473.7,469.1" fill="none" stroke="#111111" stroke-width="2.0" stroke-linecap="round"/><path d="M477.6,469.0 L471.2,472.5 L472.6,469.2 L471.0,465.9Z" fill="#111111"/>
<path d="M386.0,429.6 C387.3,430.9 390.0,434.9 394.0,437.6 C398.0,440.3 405.4,443.8 410.0,445.6 C414.6,447.4 419.5,448.1 421.4,448.6" fill="none" stroke="#111111" stroke-width="2.0" stroke-linecap="round"/><path d="M425.2,449.6 L418.1,451.1 L420.4,448.3 L419.8,444.8Z" fill="#111111"/>
<path d="M343.3,424.9 C343.9,426.2 344.6,430.0 347.0,433.0 C349.4,436.0 353.5,440.1 358.0,443.0 C362.5,445.9 371.2,449.0 373.8,450.2" fill="none" stroke="#111111" stroke-width="2.0" stroke-linecap="round"/><path d="M377.4,451.8 L370.1,452.1 L372.8,449.7 L372.8,446.1Z" fill="#111111"/>


<!-- electrodes -->
<rect x="-28" y="-7.5" width="56" height="15" rx="2.5" fill="#1f20c4" transform="translate(236.5,308) rotate(-15)"/>
<rect x="-28.5" y="-7.5" width="57" height="15" rx="2.5" fill="#000" transform="translate(349.5,296.3) rotate(5)"/>
<rect x="-8.2" y="-27" width="16.4" height="54" rx="2.5" fill="#1f20c4" transform="translate(48.8,471.5) rotate(20)"/>
<rect x="-8" y="-27" width="16" height="54" rx="2.5" fill="#000" transform="translate(562.3,412.3) rotate(-20)"/>
<!-- leaders -->
<path d="M154.6,258.5 C156.3,260.4 161.2,266.9 165.0,270.0 C168.8,273.1 173.5,276.6 177.7,276.9 C181.9,277.2 185.9,273.8 190.0,272.0 C194.1,270.2 198.5,265.9 202.3,266.2 C206.1,266.5 209.2,270.2 213.0,274.0 C216.8,277.8 222.8,286.7 224.8,289.2" fill="none" stroke="#2a2ab0" stroke-width="1.6" stroke-linecap="round"/>

<path d="M288.5,233.8 C290.1,236.2 294.4,244.2 298.0,248.0 C301.6,251.8 306.0,255.6 310.0,256.3 C314.0,257.0 317.9,253.2 322.0,252.0 C326.1,250.8 330.9,247.9 334.6,249.2 C338.3,250.5 341.2,255.4 344.0,260.0 C346.8,264.6 350.2,274.1 351.5,276.9" fill="none" stroke="#111" stroke-width="1.6" stroke-linecap="round"/>

<path d="M495.5,56.0 C496.8,58.0 500.1,64.5 503.0,68.0 C505.9,71.5 509.0,76.3 513.0,77.0 C517.0,77.7 522.5,73.5 527.0,72.0 C531.5,70.5 535.8,67.0 540.0,68.0 C544.2,69.0 548.4,73.8 552.0,78.0 C555.6,82.2 560.2,90.4 561.9,92.9" fill="none" stroke="#e8262a" stroke-width="1.6" stroke-linecap="round"/>

<line x1="332" y1="371.3" x2="498.6" y2="267.8" stroke="#e8262a" stroke-width="2.2"/>
<!-- text -->
<text stroke="#fff" stroke-width="0.6" transform="translate(41.87,200.62) scale(0.940,1)" font-family='"Liberation Sans",sans-serif' font-style="normal" font-weight="bold" font-size="34.83" fill="#2020b0">Electrode1</text>
<text stroke="#fff" stroke-width="0.6" transform="translate(223.60,178.43) scale(0.928,1)" font-family='"Liberation Sans",sans-serif' font-style="normal" font-weight="bold" font-size="35.24" fill="#000">Electrode2</text>
<text transform="translate(97.56,238.00) scale(0.967,1)" font-family='"Liberation Serif",serif' font-style="italic" font-weight="normal" font-size="33.44" fill="#2828aa">E</text>
<text transform="translate(115.08,244.90) scale(1.031,1)" font-family='"Liberation Serif",serif' font-style="normal" font-weight="normal" font-size="25.3" fill="#2828aa">1</text>
<text transform="translate(132.23,238.72) scale(0.846,1)" font-family='"Liberation Serif",serif' font-style="normal" font-weight="normal" font-size="34.43" fill="#2828aa">(</text>
<text transform="translate(141.76,238.48) skewX(-12.79)" font-family='"Liberation Serif",serif' font-style="italic" font-size="33.44" fill="#2828aa">f</text>
<text transform="translate(163.12,237.78) scale(0.867,1)" font-family='"Liberation Serif",serif' font-style="normal" font-weight="normal" font-size="33.77" fill="#2828aa">)</text>
<text transform="translate(226.59,215.70) scale(1.029,1)" font-family='"Liberation Serif",serif' font-style="italic" font-weight="normal" font-size="32.06" fill="#111">E</text>
<text transform="translate(244.55,222.40) scale(1.051,1)" font-family='"Liberation Serif",serif' font-style="normal" font-weight="normal" font-size="23.25" fill="#111">2</text>
<text transform="translate(260.37,216.53) scale(0.753,1)" font-family='"Liberation Serif",serif' font-style="normal" font-weight="normal" font-size="34.54" fill="#111">(</text>
<text transform="translate(269.65,216.33) skewX(-14.16)" font-family='"Liberation Serif",serif' font-style="italic" font-size="33.66" fill="#111">f</text>
<text transform="translate(301.38,221.30) scale(0.941,1)" font-family='"Liberation Serif",serif' font-style="normal" font-weight="normal" font-size="45.25" fill="#111">+</text>
<text transform="translate(333.02,215.70) scale(0.944,1)" font-family='"Liberation Serif",serif' font-style="normal" font-weight="normal" font-size="33.79" fill="#111">Δ</text>
<text transform="translate(354.42,216.64) skewX(-9.98)" font-family='"Liberation Serif",serif' font-style="italic" font-size="34.1" fill="#111">f</text>
<text transform="translate(373.11,216.43) scale(1.100,1)" font-family='"Liberation Serif",serif' font-style="normal" font-weight="normal" font-size="34.43" fill="#111">)</text>
<text transform="translate(423.24,40.20) scale(0.908,1)" font-family='"Liberation Serif",serif' font-style="italic" font-weight="normal" font-size="33.44" fill="#e0262a">E</text>
<text transform="translate(443.43,40.20) scale(1.217,1)" font-family='"Liberation Serif",serif' font-style="italic" font-weight="normal" font-size="31.41" fill="#e0262a">n</text>
<text transform="translate(462.58,39.95) scale(1.039,1)" font-family='"Liberation Serif",serif' font-style="italic" font-weight="normal" font-size="31.57" fill="#e0262a">v</text>
<text transform="translate(479.07,39.95) scale(1.067,1)" font-family='"Liberation Serif",serif' font-style="italic" font-weight="normal" font-size="30.75" fill="#e0262a">e</text>
<text transform="translate(493.49,40.20) scale(1.250,1)" font-family='"Liberation Serif",serif' font-style="italic" font-weight="normal" font-size="32.58" fill="#e0262a">l</text>
<text transform="translate(507.34,39.95) scale(1.094,1)" font-family='"Liberation Serif",serif' font-style="italic" font-weight="normal" font-size="30.75" fill="#e0262a">o</text>
<text transform="translate(527.13,40.42) scale(1.027,1)" font-family='"Liberation Serif",serif' font-style="italic" font-weight="normal" font-size="32.03" fill="#e0262a">p</text>
<text transform="translate(543.67,39.95) scale(1.176,1)" font-family='"Liberation Serif",serif' font-style="italic" font-weight="normal" font-size="30.75" fill="#e0262a">e</text>
<text transform="translate(562.95,40.17) scale(1.100,1)" font-family='"Liberation Serif",serif' font-style="normal" font-weight="normal" font-size="33.54" fill="#e0262a">(</text>
<text transform="translate(575.18,40.20) scale(0.977,1)" font-family='"Liberation Serif",serif' font-style="normal" font-weight="normal" font-size="33.18" fill="#e0262a">Δ</text>
<text transform="translate(595.78,40.32) skewX(-10.66)" font-family='"Liberation Serif",serif' font-style="italic" font-size="33.22" fill="#e0262a">f</text>
<text transform="translate(616.49,40.17) scale(0.721,1)" font-family='"Liberation Serif",serif' font-style="normal" font-weight="normal" font-size="33.54" fill="#e0262a">)</text>


<path d="M446.0,233.1 446.5,237.5 447.0,241.3 447.5,244.4 448.0,246.7 448.5,248.2 449.0,248.8 449.5,248.5 450.0,247.4 450.5,245.5 451.0,242.8 451.5,239.3 452.0,235.1 452.5,230.3 453.0,225.0 453.5,219.2 454.0,213.1 454.5,206.8 455.0,200.4 455.5,193.9 456.0,187.6 456.5,181.5 457.0,175.7 457.5,170.4 458.0,165.6 458.5,161.4 459.0,157.9 459.5,155.1 460.0,153.2 460.5,152.1 461.0,151.8 461.5,152.4 462.0,153.9 462.5,156.1 463.0,159.2 463.5,163.0 464.0,167.4 464.5,172.5 465.0,178.0 465.5,183.9 466.0,190.1 466.5,196.5 467.0,202.9 467.5,209.4 468.0,215.6 468.5,221.6 469.0,227.2 469.5,232.3 470.0,236.9 470.5,240.8 471.0,244.0 471.5,246.4 472.0,248.0 472.5,248.7 473.0,248.6 473.5,247.7 474.0,245.9 474.5,243.3 475.0,239.9 475.5,235.8 476.0,231.1 476.5,225.9 477.0,220.2 477.5,214.1 478.0,207.8 478.5,201.4 479.0,194.9 479.5,188.6 480.0,182.4 480.5,176.6 481.0,171.2 481.5,166.3 482.0,162.0 482.5,158.4 483.0,155.5 483.5,153.4 484.0,152.2 484.5,151.8 485.0,152.3 485.5,153.6 486.0,155.7 486.5,158.7 487.0,162.3 487.5,166.7 488.0,171.6 488.5,177.1 489.0,182.9 489.5,189.1 490.0,195.5 490.5,201.9 491.0,208.3 491.5,214.6 492.0,220.7 492.5,226.3 493.0,231.5 493.5,236.2 494.0,240.2 494.5,243.5 495.0,246.0 495.5,247.8 496.0,248.7 496.5,248.7 497.0,247.9 497.5,246.2 498.0,243.7 498.5,240.5 499.0,236.5 499.5,231.9 500.0,226.8 500.5,221.1 501.0,215.1 501.5,208.8 502.0,202.4 502.5,196.0 503.0,189.6 503.5,183.4 504.0,177.5 504.5,172.0 505.0,167.0 505.5,162.7 506.0,158.9 506.5,155.9 507.0,153.7 507.5,152.3 508.0,151.8 508.5,152.1 509.0,153.3 509.5,155.3 510.0,158.1 510.5,161.7 511.0,165.9 511.5,170.8 512.0,176.2 512.5,182.0 513.0,188.1 513.5,194.4 514.0,200.9 514.5,207.3 515.0,213.6 515.5,219.7 516.0,225.4 516.5,230.7 517.0,235.5 517.5,239.6 518.0,243.0 518.5,245.7 519.0,247.6 519.5,248.6 520.0,248.8 520.5,248.1 521.0,246.5 521.5,244.2 522.0,241.1 522.5,237.2 523.0,232.7 523.5,227.6 524.0,222.0 524.5,216.1 525.0,209.9 525.5,203.5 526.0,197.0 526.5,190.6 527.0,184.4 527.5,178.4 528.0,172.9 528.5,167.8 529.0,163.3 529.5,159.5 530.0,156.4 530.5,154.0 531.0,152.5 531.5,151.8 532.0,152.0 532.5,153.1 533.0,154.9 533.5,157.6 534.0,161.1 534.5,165.2 535.0,170.0 535.5,175.3 536.0,181.0 536.5,187.1 537.0,193.4 537.5,199.8 538.0,206.3 538.5,212.6 539.0,218.8 539.5,224.6 540.0,229.9 540.5,234.8 541.0,239.0 541.5,242.5 542.0,245.3 542.5,247.3 543.0,248.5 543.5,248.8 544.0,248.2 544.5,246.8 545.0,244.6 545.5,241.6 546.0,237.9 546.5,233.5 547.0,228.5 547.5,223.0 548.0,217.1 548.5,210.9 549.0,204.5 549.5,198.0 550.0,191.6 550.5,185.4 551.0,179.4 551.5,173.7 552.0,168.6 552.5,164.0 553.0,160.0 553.5,156.8 554.0,154.3 554.5,152.7 555.0,151.9 555.5,151.9 556.0,152.8 556.5,154.6 557.0,157.2 557.5,160.5 558.0,164.5 558.5,169.2 559.0,174.4 559.5,180.1 560.0,186.1 560.5,192.4 561.0,198.8 561.5,205.3 562.0,211.6 562.5,217.8 563.0,223.6 563.5,229.1 564.0,234.0 564.5,238.4 565.0,242.0 565.5,244.9 566.0,247.1 566.5,248.4 567.0,248.8 567.5,248.4 568.0,247.1 568.5,245.0 569.0,242.1 569.5,238.5 570.0,234.2 570.5,229.3 571.0,223.9 571.5,218.0 572.0,211.9 572.5,205.5 573.0,199.1 573.5,192.6 574.0,186.3 574.5,180.3 575.0,174.6 575.5,169.4 576.0,164.7 576.5,160.6 577.0,157.3 577.5,154.7 578.0,152.9 578.5,152.0 579.0,151.9 579.5,152.6 580.0,154.3 580.5,156.7 581.0,159.9 581.5,163.8 582.0,168.4 582.5,173.5 583.0,179.1 583.5,185.1 584.0,191.4 584.5,197.8 585.0,204.2 585.5,210.6 586.0,216.8 586.5,222.7 587.0,228.3 587.5,233.3 588.0,237.7 588.5,241.5 589.0,244.5 589.5,246.8 590.0,248.2 590.5,248.8 591.0,248.5 591.5,247.4 592.0,245.4 592.5,242.7 593.0,239.1 593.5,234.9 594.0,230.1 594.5,224.8 595.0,219.0 595.5,212.9 596.0,206.6 596.5,200.1 597.0,193.7 597.5,187.3 598.0,181.2 598.5,175.5 599.0,170.2 599.5,165.4 600.0,161.2 600.5,157.8 601.0,155.0 601.5,153.1 602.0,152.0 602.5,151.8 603.0,152.5 603.5,153.9 604.0,156.2 604.5,159.3 605.0,163.1 605.5,167.6 606.0,172.7 606.5,178.2 607.0,184.1 607.5,190.4 608.0,196.7 608.5,203.2 609.0,209.6 609.5,215.9 610.0,221.8 610.5,227.4 611.0,232.5 611.5,237.0 612.0,240.9 612.5,244.1 613.0,246.5 613.5,248.0 614.0,248.8 614.5,248.6 615.0,247.6 615.5,245.8 616.0,243.1 616.5,239.7 617.0,235.7 617.5,230.9 618.0,225.7 618.5,219.9 619.0,213.9 619.5,207.6 620.0,201.1 620.5,194.7 621.0,188.3 621.5,182.2 622.0,176.4 622.5,171.0 623.0,166.1 623.5,161.9 624.0,158.3 624.5,155.4 625.0,153.4 625.5,152.2 626.0,151.8 626.5,152.3 627.0,153.7 627.5,155.8 628.0,158.8 628.5,162.5 629.0,166.9 629.5,171.8 630.0,177.3 630.5,183.2 631.0,189.3 631.5,195.7 632.0,202.2 632.5,208.6 633.0,214.9 633.5,220.9 634.0,226.5 634.5,231.7 635.0,236.4 635.5,240.3 636.0,243.6 636.5,246.1 637.0,247.8 637.5,248.7 638.0,248.7 638.5,247.8 639.0,246.1 639.5,243.6 640.0,240.3 640.5,236.4 641.0,231.7 641.5,226.5 642.0,220.9 642.5,214.9 643.0,208.6 643.5,202.2 644.0,195.7 644.5,189.3 645.0,183.2 645.5,177.3 646.0,171.8 646.5,166.9 647.0,162.5 647.5,158.8 648.0,155.8 648.5,153.7 649.0,152.3 649.5,151.8 650.0,152.2 650.5,153.4 651.0,155.4 651.5,158.3 652.0,161.9 652.5,166.1 653.0,171.0 653.5,176.4 654.0,182.2 654.5,188.3 655.0,194.7 655.5,201.1 656.0,207.6 656.5,213.9 657.0,219.9 657.5,225.7 658.0,230.9 658.5,235.7 659.0,239.7 659.5,243.1 660.0,245.8 660.5,247.6 661.0,248.6 661.5,248.8 662.0,248.0 662.5,246.5 663.0,244.1 663.5,240.9 664.0,237.0 664.5,232.5 665.0,227.4 665.5,221.8 666.0,215.9 666.5,209.6 667.0,203.2 667.5,196.7 668.0,190.4 668.5,184.1 669.0,178.2 669.5,172.7 670.0,167.6 670.5,163.1 671.0,159.3 671.5,156.2 672.0,153.9 672.5,152.5 673.0,151.8 673.5,152.0 674.0,153.1 674.5,155.0 675.0,157.8 675.5,161.2 676.0,165.4 676.5,170.2 677.0,175.5 677.5,181.2 678.0,187.3 678.5,193.7 679.0,200.1 679.5,206.6 680.0,212.9 680.5,219.0 681.0,224.8 681.5,230.1 682.0,234.9 682.5,239.1 683.0,242.7 683.5,245.4 684.0,247.4 684.5,248.5 685.0,248.8 685.5,248.2 686.0,246.8 686.5,244.5 687.0,241.5 687.5,237.7 688.0,233.3 688.5,228.3 689.0,222.7 689.5,216.8 690.0,210.6 690.5,204.2 691.0,197.8 691.5,191.4 692.0,185.1 692.5,179.1 693.0,173.5 693.5,168.4 694.0,163.8 694.5,159.9 695.0,156.7 695.5,154.3 696.0,152.6 696.5,151.9 697.0,152.0 697.5,152.9 698.0,154.7 698.5,157.3 699.0,160.6 699.5,164.7 700.0,169.4 700.5,174.6 701.0,180.3 701.5,186.3 702.0,192.6 702.5,199.1 703.0,205.5 703.5,211.9 704.0,218.0 704.5,223.9 705.0,229.3 705.5,234.2 706.0,238.5 706.5,242.1 707.0,245.0 707.5,247.1 708.0,248.4 708.5,248.8 709.0,248.4 709.5,247.1 710.0,244.9 710.5,242.0 711.0,238.4 711.5,234.0 712.0,229.1 712.5,223.6 713.0,217.8 713.5,211.6 714.0,205.3 714.5,198.8 715.0,192.4 715.5,186.1 716.0,180.1 716.5,174.4 717.0,169.2 717.5,164.5 718.0,160.5 718.5,157.2 719.0,154.6 719.5,152.8 720.0,151.9 720.5,151.9 721.0,152.7 721.5,154.3 722.0,156.8 722.5,160.0 723.0,164.0 723.5,168.6 724.0,173.7 724.5,179.4 725.0,185.4 725.5,191.6 726.0,198.0 726.5,204.5 727.0,210.9 727.5,217.1 728.0,223.0 728.5,228.5 729.0,233.5 729.5,237.9 730.0,241.6" fill="none" stroke="#111" stroke-width="1.9"/>
<path d="M446.0,190.9 446.5,184.1 447.0,177.6 447.5,171.6 448.0,166.2 448.5,161.5 449.0,157.7 449.5,154.8 450.0,152.8 450.5,151.9 451.0,152.0 451.5,153.1 452.0,155.3 452.5,158.4 453.0,162.4 453.5,167.2 454.0,172.7 454.5,178.9 455.0,185.4 455.5,192.3 456.0,199.4 456.5,206.5 457.0,213.5 457.5,220.1 458.0,226.4 458.5,232.1 459.0,237.1 459.5,241.3 460.0,244.6 460.5,247.0 461.0,248.4 461.5,248.8 462.0,248.1 462.5,246.4 463.0,243.7 463.5,240.1 464.0,235.6 464.5,230.4 465.0,224.5 465.5,218.2 466.0,211.4 466.5,204.4 467.0,197.3 467.5,190.3 468.0,183.4 468.5,177.0 469.0,171.0 469.5,165.7 470.0,161.1 470.5,157.4 471.0,154.5 471.5,152.7 472.0,151.8 472.5,152.1 473.0,153.3 473.5,155.5 474.0,158.7 474.5,162.8 475.0,167.7 475.5,173.3 476.0,179.5 476.5,186.1 477.0,193.0 477.5,200.1 478.0,207.2 478.5,214.1 479.0,220.8 479.5,227.0 480.0,232.6 480.5,237.5 481.0,241.7 481.5,244.9 482.0,247.2 482.5,248.5 483.0,248.8 483.5,248.0 484.0,246.2 484.5,243.4 485.0,239.7 485.5,235.2 486.0,229.9 486.5,223.9 487.0,217.5 487.5,210.7 488.0,203.7 488.5,196.6 489.0,189.6 489.5,182.8 490.0,176.4 490.5,170.5 491.0,165.2 491.5,160.7 492.0,157.0 492.5,154.3 493.0,152.5 493.5,151.8 494.0,152.1 494.5,153.5 495.0,155.8 495.5,159.1 496.0,163.3 496.5,168.3 497.0,173.9 497.5,180.2 498.0,186.8 498.5,193.7 499.0,200.8 499.5,207.9 500.0,214.8 500.5,221.4 501.0,227.6 501.5,233.1 502.0,238.0 502.5,242.0 503.0,245.2 503.5,247.4 504.0,248.6 504.5,248.7 505.0,247.9 505.5,246.0 506.0,243.1 506.5,239.3 507.0,234.7 507.5,229.3 508.0,223.3 508.5,216.8 509.0,210.0 509.5,203.0 510.0,195.9 510.5,188.9 511.0,182.1 511.5,175.7 512.0,169.9 512.5,164.7 513.0,160.3 513.5,156.7 514.0,154.1 514.5,152.4 515.0,151.8 515.5,152.2 516.0,153.7 516.5,156.1 517.0,159.5 517.5,163.8 518.0,168.8 518.5,174.5 519.0,180.8 519.5,187.5 520.0,194.5 520.5,201.5 521.0,208.6 521.5,215.5 522.0,222.0 522.5,228.1 523.0,233.6 523.5,238.4 524.0,242.4 524.5,245.5 525.0,247.6 525.5,248.6 526.0,248.7 526.5,247.7 527.0,245.7 527.5,242.7 528.0,238.9 528.5,234.2 529.0,228.7 529.5,222.7 530.0,216.2 530.5,209.3 531.0,202.3 531.5,195.2 532.0,188.2 532.5,181.5 533.0,175.1 533.5,169.4 534.0,164.2 534.5,159.9 535.0,156.4 535.5,153.9 536.0,152.3 536.5,151.8 537.0,152.3 537.5,153.9 538.0,156.4 538.5,159.9 539.0,164.2 539.5,169.4 540.0,175.1 540.5,181.5 541.0,188.2 541.5,195.2 542.0,202.3 542.5,209.3 543.0,216.2 543.5,222.7 544.0,228.7 544.5,234.2 545.0,238.9 545.5,242.7 546.0,245.7 546.5,247.7 547.0,248.7 547.5,248.6 548.0,247.6 548.5,245.5 549.0,242.4 549.5,238.4 550.0,233.6 550.5,228.1 551.0,222.0 551.5,215.5 552.0,208.6 552.5,201.5 553.0,194.5 553.5,187.5 554.0,180.8 554.5,174.5 555.0,168.8 555.5,163.8 556.0,159.5 556.5,156.1 557.0,153.7 557.5,152.2 558.0,151.8 558.5,152.4 559.0,154.1 559.5,156.7 560.0,160.3 560.5,164.7 561.0,169.9 561.5,175.7 562.0,182.1 562.5,188.9 563.0,195.9 563.5,203.0 564.0,210.0 564.5,216.8 565.0,223.3 565.5,229.3 566.0,234.7 566.5,239.3 567.0,243.1 567.5,246.0 568.0,247.9 568.5,248.7 569.0,248.6 569.5,247.4 570.0,245.2 570.5,242.0 571.0,238.0 571.5,233.1 572.0,227.6 572.5,221.4 573.0,214.8 573.5,207.9 574.0,200.8 574.5,193.7 575.0,186.8 575.5,180.2 576.0,173.9 576.5,168.3 577.0,163.3 577.5,159.1 578.0,155.8 578.5,153.5 579.0,152.1 579.5,151.8 580.0,152.5 580.5,154.3 581.0,157.0 581.5,160.7 582.0,165.2 582.5,170.5 583.0,176.4 583.5,182.8 584.0,189.6 584.5,196.6 585.0,203.7 585.5,210.7 586.0,217.5 586.5,223.9 587.0,229.9 587.5,235.2 588.0,239.7 588.5,243.4 589.0,246.2 589.5,248.0 590.0,248.8 590.5,248.5 591.0,247.2 591.5,244.9 592.0,241.7 592.5,237.5 593.0,232.6 593.5,227.0 594.0,220.8 594.5,214.1 595.0,207.2 595.5,200.1 596.0,193.0 596.5,186.1 597.0,179.5 597.5,173.3 598.0,167.7 598.5,162.8 599.0,158.7 599.5,155.5 600.0,153.3 600.5,152.1 601.0,151.8 601.5,152.7 602.0,154.5 602.5,157.4 603.0,161.1 603.5,165.7 604.0,171.0 604.5,177.0 605.0,183.4 605.5,190.3 606.0,197.3 606.5,204.4 607.0,211.4 607.5,218.2 608.0,224.6 608.5,230.4 609.0,235.6 609.5,240.1 610.0,243.7 610.5,246.4 611.0,248.1 611.5,248.8 612.0,248.4 612.5,247.0 613.0,244.6 613.5,241.3 614.0,237.1 614.5,232.1 615.0,226.4 615.5,220.1 616.0,213.5 616.5,206.5 617.0,199.4 617.5,192.3 618.0,185.4 618.5,178.9 619.0,172.7 619.5,167.2 620.0,162.4 620.5,158.4 621.0,155.3 621.5,153.1 622.0,152.0 622.5,151.9 623.0,152.8 623.5,154.8 624.0,157.7 624.5,161.5 625.0,166.2 625.5,171.6 626.0,177.6 626.5,184.1 627.0,190.9 627.5,198.0 628.0,205.1 628.5,212.1 629.0,218.8 629.5,225.2 630.0,231.0 630.5,236.1 631.0,240.5 631.5,244.0 632.0,246.6 632.5,248.2 633.0,248.8 633.5,248.3 634.0,246.8 634.5,244.3 635.0,240.9 635.5,236.6 636.0,231.5 636.5,225.8 637.0,219.5 637.5,212.8 638.0,205.8 638.5,198.7 639.0,191.6 639.5,184.8 640.0,178.2 640.5,172.2 641.0,166.7 641.5,162.0 642.0,158.0 642.5,155.0 643.0,153.0 643.5,151.9 644.0,151.9 644.5,153.0 645.0,155.0 645.5,158.0 646.0,162.0 646.5,166.7 647.0,172.2 647.5,178.2 648.0,184.8 648.5,191.6 649.0,198.7 649.5,205.8 650.0,212.8 650.5,219.5 651.0,225.8 651.5,231.5 652.0,236.6 652.5,240.9 653.0,244.3 653.5,246.8 654.0,248.3 654.5,248.8 655.0,248.2 655.5,246.6 656.0,244.0 656.5,240.5 657.0,236.1 657.5,231.0 658.0,225.2 658.5,218.8 659.0,212.1 659.5,205.1 660.0,198.0 660.5,190.9 661.0,184.1 661.5,177.6 662.0,171.6 662.5,166.2 663.0,161.5 663.5,157.7 664.0,154.8 664.5,152.8 665.0,151.9 665.5,152.0 666.0,153.1 666.5,155.3 667.0,158.4 667.5,162.4 668.0,167.2 668.5,172.7 669.0,178.9 669.5,185.4 670.0,192.3 670.5,199.4 671.0,206.5 671.5,213.5 672.0,220.1 672.5,226.4 673.0,232.1 673.5,237.1 674.0,241.3 674.5,244.6 675.0,247.0 675.5,248.4 676.0,248.8 676.5,248.1 677.0,246.4 677.5,243.7 678.0,240.1 678.5,235.6 679.0,230.4 679.5,224.5 680.0,218.2 680.5,211.4 681.0,204.4 681.5,197.3 682.0,190.3 682.5,183.4 683.0,177.0 683.5,171.0 684.0,165.7 684.5,161.1 685.0,157.4 685.5,154.5 686.0,152.7 686.5,151.8 687.0,152.1 687.5,153.3 688.0,155.5 688.5,158.7 689.0,162.8 689.5,167.7 690.0,173.3 690.5,179.5 691.0,186.1 691.5,193.0 692.0,200.1 692.5,207.2 693.0,214.1 693.5,220.8 694.0,227.0 694.5,232.6 695.0,237.5 695.5,241.7 696.0,244.9 696.5,247.2 697.0,248.5 697.5,248.8 698.0,248.0 698.5,246.2 699.0,243.4 699.5,239.7 700.0,235.2 700.5,229.9 701.0,223.9 701.5,217.5 702.0,210.7 702.5,203.7 703.0,196.6 703.5,189.6 704.0,182.8 704.5,176.4 705.0,170.5 705.5,165.2 706.0,160.7 706.5,157.0 707.0,154.3 707.5,152.5 708.0,151.8 708.5,152.1 709.0,153.5 709.5,155.8 710.0,159.1 710.5,163.3 711.0,168.3 711.5,173.9 712.0,180.2 712.5,186.8 713.0,193.7 713.5,200.8 714.0,207.9 714.5,214.8 715.0,221.4 715.5,227.6 716.0,233.1 716.5,238.0 717.0,242.0 717.5,245.2 718.0,247.4 718.5,248.6 719.0,248.7 719.5,247.9 720.0,246.0 720.5,243.1 721.0,239.3 721.5,234.7 722.0,229.3 722.5,223.3 723.0,216.8 723.5,210.0 724.0,203.0 724.5,195.9 725.0,188.9 725.5,182.1 726.0,175.7 726.5,169.9 727.0,164.7 727.5,160.3 728.0,156.7 728.5,154.1 729.0,152.4 729.5,151.8 730.0,152.2" fill="none" stroke="#2a35c4" stroke-width="1.9"/>
<path d="M446.0,223.7 446.5,221.3 447.0,218.6 447.5,215.7 448.0,212.6 448.5,209.4 449.0,206.2 449.5,203.0 450.0,200.0 450.5,197.1 451.0,194.5 451.5,192.1 452.0,190.1 452.5,188.4 453.0,187.1 453.5,186.2 454.0,185.6 454.5,185.4 455.0,185.5 455.5,186.0 456.0,186.7 456.5,187.7 457.0,188.9 457.5,190.2 458.0,191.6 458.5,193.1 459.0,194.7 459.5,196.1 460.0,197.5 460.5,198.8 461.0,199.9 461.5,200.9 462.0,201.7 462.5,202.3 463.0,202.6 463.5,202.8 464.0,202.8 464.5,202.6 465.0,202.2 465.5,201.8 466.0,201.2 466.5,200.6 467.0,199.9 467.5,199.3 468.0,198.7 468.5,198.3 469.0,197.9 469.5,197.7 470.0,197.7 470.5,197.8 471.0,198.2 471.5,198.8 472.0,199.5 472.5,200.5 473.0,201.6 473.5,202.9 474.0,204.3 474.5,205.8 475.0,207.3 475.5,208.9 476.0,210.3 476.5,211.7 477.0,212.9 477.5,213.9 478.0,214.7 478.5,215.2 479.0,215.4 479.5,215.3 480.0,214.7 480.5,213.8 481.0,212.6 481.5,210.9 482.0,208.9 482.5,206.6 483.0,204.0 483.5,201.1 484.0,198.1 484.5,194.9 485.0,191.7 485.5,188.4 486.0,185.3 486.5,182.3 487.0,179.5 487.5,177.1 488.0,175.0 488.5,173.3 489.0,172.2 489.5,171.6 490.0,171.5 490.5,172.1 491.0,173.2 491.5,175.0 492.0,177.4 492.5,180.3 493.0,183.8 493.5,187.7 494.0,192.0 494.5,196.7 495.0,201.6 495.5,206.6 496.0,211.7 496.5,216.7 497.0,221.5 497.5,226.1 498.0,230.2 498.5,233.9 499.0,237.1 499.5,239.5 500.0,241.3 500.5,242.2 501.0,242.4 501.5,241.7 502.0,240.1 502.5,237.7 503.0,234.5 503.5,230.5 504.0,225.8 504.5,220.5 505.0,214.6 505.5,208.3 506.0,201.7 506.5,194.9 507.0,188.1 507.5,181.3 508.0,174.8 508.5,168.7 509.0,163.0 509.5,158.0 510.0,153.7 510.5,150.3 511.0,147.7 511.5,146.2 512.0,145.8 512.5,146.4 513.0,148.1 513.5,150.8 514.0,154.7 514.5,159.4 515.0,165.1 515.5,171.6 516.0,178.8 516.5,186.5 517.0,194.7 517.5,203.1 518.0,211.5 518.5,219.9 519.0,228.1 519.5,235.8 520.0,242.9 520.5,249.3 521.0,254.8 521.5,259.4 522.0,262.8 522.5,265.0 523.0,266.0 523.5,265.7 524.0,264.1 524.5,261.3 525.0,257.1 525.5,251.8 526.0,245.4 526.5,238.0 527.0,229.8 527.5,220.9 528.0,211.4 528.5,201.7 529.0,191.7 529.5,181.9 530.0,172.2 530.5,163.0 531.0,154.5 531.5,146.7 532.0,139.9 532.5,134.2 533.0,129.8 533.5,126.7 534.0,125.0 534.5,124.8 535.0,126.1 535.5,128.8 536.0,133.0 536.5,138.6 537.0,145.4 537.5,153.4 538.0,162.4 538.5,172.2 539.0,182.7 539.5,193.6 540.0,204.7 540.5,215.9 541.0,226.9 541.5,237.4 542.0,247.3 542.5,256.3 543.0,264.3 543.5,271.2 544.0,276.7 544.5,280.7 545.0,283.2 545.5,284.0 546.0,283.3 546.5,280.9 547.0,276.9 547.5,271.3 548.0,264.3 548.5,256.0 549.0,246.6 549.5,236.2 550.0,225.0 550.5,213.2 551.0,201.1 551.5,188.9 552.0,176.9 552.5,165.2 553.0,154.2 553.5,144.0 554.0,134.8 554.5,126.9 555.0,120.4 555.5,115.4 556.0,112.0 556.5,110.4 557.0,110.5 557.5,112.4 558.0,116.0 558.5,121.3 559.0,128.2 559.5,136.5 560.0,146.1 560.5,156.8 561.0,168.4 561.5,180.7 562.0,193.4 562.5,206.4 563.0,219.2 563.5,231.8 564.0,243.7 564.5,254.9 565.0,265.0 565.5,273.9 566.0,281.4 566.5,287.3 567.0,291.6 567.5,294.0 568.0,294.7 568.5,293.5 569.0,290.4 569.5,285.6 570.0,279.1 570.5,271.0 571.0,261.6 571.5,250.9 572.0,239.1 572.5,226.6 573.0,213.6 573.5,200.2 574.0,186.9 574.5,173.8 575.0,161.1 575.5,149.2 576.0,138.3 576.5,128.6 577.0,120.3 577.5,113.5 578.0,108.4 578.5,105.1 579.0,103.7 579.5,104.2 580.0,106.5 580.5,110.7 581.0,116.6 581.5,124.2 582.0,133.3 582.5,143.7 583.0,155.2 583.5,167.6 584.0,180.6 584.5,194.1 585.0,207.6 585.5,221.0 586.0,234.0 586.5,246.4 587.0,257.8 587.5,268.1 588.0,277.1 588.5,284.6 589.0,290.4 589.5,294.5 590.0,296.7 590.5,297.0 591.0,295.4 591.5,292.0 592.0,286.8 592.5,279.9 593.0,271.4 593.5,261.6 594.0,250.6 594.5,238.6 595.0,225.9 595.5,212.7 596.0,199.3 596.5,185.9 597.0,172.9 597.5,160.4 598.0,148.7 598.5,138.0 599.0,128.6 599.5,120.6 600.0,114.2 600.5,109.5 601.0,106.6 601.5,105.5 602.0,106.3 602.5,108.9 603.0,113.3 603.5,119.3 604.0,127.0 604.5,136.0 605.0,146.3 605.5,157.6 606.0,169.7 606.5,182.3 607.0,195.2 607.5,208.2 608.0,221.0 608.5,233.3 609.0,245.0 609.5,255.7 610.0,265.2 610.5,273.5 611.0,280.3 611.5,285.5 612.0,289.0 612.5,290.8 613.0,290.8 613.5,289.0 614.0,285.5 614.5,280.4 615.0,273.7 615.5,265.6 616.0,256.3 616.5,245.9 617.0,234.8 617.5,223.0 618.0,210.8 618.5,198.5 619.0,186.3 619.5,174.5 620.0,163.2 620.5,152.8 621.0,143.3 621.5,135.0 622.0,128.1 622.5,122.6 623.0,118.6 623.5,116.3 624.0,115.7 624.5,116.7 625.0,119.3 625.5,123.5 626.0,129.1 626.5,136.1 627.0,144.3 627.5,153.5 628.0,163.6 628.5,174.3 629.0,185.4 629.5,196.7 630.0,208.0 630.5,219.0 631.0,229.6 631.5,239.5 632.0,248.5 632.5,256.5 633.0,263.4 633.5,268.9 634.0,273.1 634.5,275.8 635.0,277.0 635.5,276.6 636.0,274.8 636.5,271.6 637.0,267.0 637.5,261.2 638.0,254.2 638.5,246.2 639.0,237.5 639.5,228.1 640.0,218.3 640.5,208.2 641.0,198.1 641.5,188.2 642.0,178.6 642.5,169.6 643.0,161.3 643.5,153.8 644.0,147.3 644.5,142.0 645.0,137.9 645.5,135.0 646.0,133.5 646.5,133.3 647.0,134.4 647.5,136.7 648.0,140.3 648.5,145.0 649.0,150.7 649.5,157.3 650.0,164.6 650.5,172.6 651.0,180.9 651.5,189.5 652.0,198.2 652.5,206.7 653.0,215.0 653.5,222.9 654.0,230.2 654.5,236.8 655.0,242.6 655.5,247.5 656.0,251.3 656.5,254.1 657.0,255.8 657.5,256.3 658.0,255.8 658.5,254.2 659.0,251.5 659.5,247.9 660.0,243.5 660.5,238.3 661.0,232.4 661.5,226.1 662.0,219.3 662.5,212.4 663.0,205.3 663.5,198.3 664.0,191.5 664.5,185.0 665.0,179.0 665.5,173.5 666.0,168.7 666.5,164.6 667.0,161.3 667.5,158.8 668.0,157.3 668.5,156.6 669.0,156.8 669.5,157.8 670.0,159.7 670.5,162.3 671.0,165.5 671.5,169.4 672.0,173.8 672.5,178.5 673.0,183.6 673.5,188.8 674.0,194.1 674.5,199.4 675.0,204.5 675.5,209.4 676.0,213.9 676.5,218.0 677.0,221.6 677.5,224.7 678.0,227.2 678.5,229.0 679.0,230.2 679.5,230.8 680.0,230.7 680.5,230.1 681.0,228.9 681.5,227.1 682.0,224.9 682.5,222.3 683.0,219.3 683.5,216.1 684.0,212.8 684.5,209.3 685.0,205.8 685.5,202.4 686.0,199.1 686.5,196.1 687.0,193.2 687.5,190.7 688.0,188.5 688.5,186.7 689.0,185.3 689.5,184.3 690.0,183.7 690.5,183.4 691.0,183.6 691.5,184.1 692.0,184.9 692.5,186.0 693.0,187.4 693.5,188.9 694.0,190.5 694.5,192.2 695.0,193.9 695.5,195.6 696.0,197.3 696.5,198.8 697.0,200.2 697.5,201.4 698.0,202.4 698.5,203.2 699.0,203.7 699.5,204.1 700.0,204.2 700.5,204.2 701.0,203.9 701.5,203.5 702.0,203.0 702.5,202.4 703.0,201.8 703.5,201.1 704.0,200.5 704.5,199.9 705.0,199.5 705.5,199.1 706.0,198.9 706.5,198.9 707.0,199.0 707.5,199.4 708.0,199.9 708.5,200.6 709.0,201.5 709.5,202.6 710.0,203.7 710.5,205.0 711.0,206.3 711.5,207.6 712.0,208.9 712.5,210.2 713.0,211.2 713.5,212.2 714.0,212.9 714.5,213.3 715.0,213.5 715.5,213.4 716.0,212.9 716.5,212.1 717.0,210.9 717.5,209.4 718.0,207.6 718.5,205.4 719.0,203.0 719.5,200.4 720.0,197.6 720.5,194.7 721.0,191.7 721.5,188.7 722.0,185.8 722.5,183.1 723.0,180.5 723.5,178.3 724.0,176.4 724.5,174.9 725.0,173.9 725.5,173.4 726.0,173.5 726.5,174.1 727.0,175.3 727.5,177.1 728.0,179.4 728.5,182.2 729.0,185.6 729.5,189.4 730.0,193.5" fill="none" stroke="#e8262a" stroke-width="3"/>
<path d="M446.0,174.4 447.0,175.7 448.0,176.9 449.0,178.2 450.0,179.4 451.0,180.7 452.0,181.9 453.0,183.2 454.0,184.5 455.0,185.8 456.0,187.0 457.0,188.3 458.0,189.6 459.0,190.9 460.0,192.2 461.0,193.5 462.0,194.8 463.0,196.0 464.0,197.3 465.0,198.6 466.0,199.9 467.0,199.4 468.0,198.1 469.0,196.8 470.0,195.5 471.0,194.2 472.0,192.9 473.0,191.7 474.0,190.4 475.0,189.1 476.0,187.8 477.0,186.5 478.0,185.3 479.0,184.0 480.0,182.7 481.0,181.4 482.0,180.2 483.0,178.9 484.0,177.7 485.0,176.4 486.0,175.2 487.0,173.9 488.0,172.7 489.0,171.4 490.0,170.2 491.0,169.0 492.0,167.8 493.0,166.5 494.0,165.3 495.0,164.1 496.0,162.9 497.0,161.8 498.0,160.6 499.0,159.4 500.0,158.2 501.0,157.1 502.0,155.9 503.0,154.8 504.0,153.6 505.0,152.5 506.0,151.4 507.0,150.3 508.0,149.2 509.0,148.1 510.0,147.0 511.0,145.9 512.0,144.9 513.0,143.8 514.0,142.8 515.0,141.7 516.0,140.7 517.0,139.7 518.0,138.7 519.0,137.7 520.0,136.7 521.0,135.7 522.0,134.8 523.0,133.8 524.0,132.9 525.0,132.0 526.0,131.1 527.0,130.2 528.0,129.3 529.0,128.4 530.0,127.6 531.0,126.7 532.0,125.9 533.0,125.1 534.0,124.2 535.0,123.4 536.0,122.7 537.0,121.9 538.0,121.1 539.0,120.4 540.0,119.7 541.0,119.0 542.0,118.3 543.0,117.6 544.0,116.9 545.0,116.3 546.0,115.6 547.0,115.0 548.0,114.4 549.0,113.8 550.0,113.2 551.0,112.7 552.0,112.1 553.0,111.6 554.0,111.1 555.0,110.6 556.0,110.1 557.0,109.6 558.0,109.2 559.0,108.7 560.0,108.3 561.0,107.9 562.0,107.5 563.0,107.2 564.0,106.8 565.0,106.5 566.0,106.2 567.0,105.9 568.0,105.6 569.0,105.3 570.0,105.1 571.0,104.8 572.0,104.6 573.0,104.4 574.0,104.2 575.0,104.0 576.0,103.9 577.0,103.8 578.0,103.6 579.0,103.5 580.0,103.5 581.0,103.4 582.0,103.3 583.0,103.3 584.0,103.3 585.0,103.3 586.0,103.3 587.0,103.4 588.0,103.4 589.0,103.5 590.0,103.6 591.0,103.7 592.0,103.8 593.0,103.9 594.0,104.1 595.0,104.3 596.0,104.5 597.0,104.7 598.0,104.9 599.0,105.2 600.0,105.4 601.0,105.7 602.0,106.0 603.0,106.3 604.0,106.6 605.0,107.0 606.0,107.3 607.0,107.7 608.0,108.1 609.0,108.5 610.0,108.9 611.0,109.4 612.0,109.8 613.0,110.3 614.0,110.8 615.0,111.3 616.0,111.8 617.0,112.3 618.0,112.9 619.0,113.5 620.0,114.0 621.0,114.6 622.0,115.3 623.0,115.9 624.0,116.5 625.0,117.2 626.0,117.9 627.0,118.6 628.0,119.3 629.0,120.0 630.0,120.7 631.0,121.4 632.0,122.2 633.0,123.0 634.0,123.8 635.0,124.6 636.0,125.4 637.0,126.2 638.0,127.0 639.0,127.9 640.0,128.8 641.0,129.6 642.0,130.5 643.0,131.4 644.0,132.4 645.0,133.3 646.0,134.2 647.0,135.2 648.0,136.1 649.0,137.1 650.0,138.1 651.0,139.1 652.0,140.1 653.0,141.1 654.0,142.1 655.0,143.2 656.0,144.2 657.0,145.3 658.0,146.4 659.0,147.4 660.0,148.5 661.0,149.6 662.0,150.7 663.0,151.8 664.0,153.0 665.0,154.1 666.0,155.2 667.0,156.4 668.0,157.5 669.0,158.7 670.0,159.9 671.0,161.0 672.0,162.2 673.0,163.4 674.0,164.6 675.0,165.8 676.0,167.0 677.0,168.2 678.0,169.5 679.0,170.7 680.0,171.9 681.0,173.2 682.0,174.4 683.0,175.7 684.0,176.9 685.0,178.2 686.0,179.4 687.0,180.7 688.0,181.9 689.0,183.2 690.0,184.5 691.0,185.8 692.0,187.0 693.0,188.3 694.0,189.6 695.0,190.9 696.0,192.2 697.0,193.5 698.0,194.8 699.0,196.0 700.0,197.3 701.0,198.6 702.0,199.9 703.0,199.4 704.0,198.1 705.0,196.8 706.0,195.5 707.0,194.2 708.0,192.9 709.0,191.7 710.0,190.4 711.0,189.1 712.0,187.8 713.0,186.5 714.0,185.3 715.0,184.0 716.0,182.7 717.0,181.4 718.0,180.2 719.0,178.9 720.0,177.7 721.0,176.4 722.0,175.2 723.0,173.9 724.0,172.7 725.0,171.4 726.0,170.2 727.0,169.0 728.0,167.8 729.0,166.5 730.0,165.3" fill="none" stroke="#e8262a" stroke-width="3"/>

</svg>
</body></html>
